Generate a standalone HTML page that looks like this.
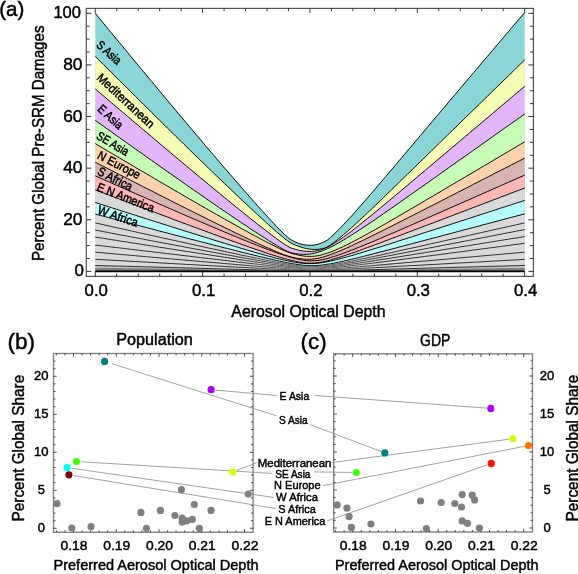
<!DOCTYPE html><html><head><meta charset="utf-8"><style>html,body{margin:0;padding:0;width:578px;height:574px;overflow:hidden;background:#fff;position:relative}</style></head><body><svg width="578" height="574" viewBox="0 0 578 574" style="position:absolute;left:0;top:0;will-change:transform">
<style>text{stroke:#000;stroke-width:0.45px}</style>
<defs><linearGradient id="lg" gradientUnits="userSpaceOnUse" x1="95" y1="0" x2="525" y2="0"><stop offset="0" stop-color="#000"/><stop offset="0.33" stop-color="#000"/><stop offset="0.5" stop-color="#666"/><stop offset="0.67" stop-color="#000"/><stop offset="1" stop-color="#000"/></linearGradient></defs>
<rect width="578" height="574" fill="#fff"/>
<path d="M95.3,13.3 L97.9,16.6 L100.6,19.8 L103.3,23.1 L106.0,26.3 L108.7,29.6 L111.4,32.8 L114.0,36.1 L116.7,39.3 L119.4,42.6 L122.1,45.8 L124.8,49.1 L127.5,52.3 L130.2,55.6 L132.8,58.8 L135.5,62.1 L138.2,65.3 L140.9,68.6 L143.6,71.8 L146.3,75.0 L149.0,78.3 L151.7,81.5 L154.4,84.7 L157.1,88.0 L159.7,91.2 L162.4,94.4 L165.1,97.7 L167.8,100.9 L170.5,104.1 L173.2,107.3 L175.9,110.6 L178.6,113.8 L181.3,117.0 L184.0,120.2 L186.7,123.4 L189.4,126.6 L192.1,129.9 L194.8,133.1 L197.6,136.3 L200.3,139.5 L203.0,142.7 L205.7,145.9 L208.4,149.1 L211.1,152.3 L213.8,155.4 L216.6,158.6 L219.3,161.8 L222.0,165.0 L224.7,168.2 L227.5,171.3 L230.2,174.5 L232.9,177.6 L235.6,180.8 L238.4,183.9 L241.1,187.1 L243.8,190.2 L246.6,193.3 L249.3,196.4 L252.0,199.5 L254.8,202.6 L257.5,205.7 L260.2,208.7 L263.0,211.7 L265.7,214.7 L268.4,217.7 L271.1,220.7 L273.9,223.6 L276.6,226.5 L279.3,229.3 L282.0,232.0 L284.7,234.6 L287.5,237.1 L290.2,239.2 L292.9,240.8 L295.6,242.1 L298.3,243.2 L301.0,244.1 L303.7,244.7 L306.4,245.1 L309.1,245.3 L311.8,245.3 L314.4,245.0 L317.1,244.4 L319.8,243.6 L322.5,242.6 L325.1,241.4 L327.8,239.7 L330.5,237.5 L333.1,235.1 L335.8,232.5 L338.4,229.9 L341.1,227.2 L343.7,224.4 L346.4,221.6 L349.0,218.7 L351.7,215.8 L354.3,212.9 L356.9,209.9 L359.6,206.9 L362.2,203.9 L364.8,200.9 L367.5,197.9 L370.1,194.8 L372.8,191.8 L375.4,188.7 L378.0,185.6 L380.7,182.5 L383.3,179.4 L385.9,176.3 L388.6,173.2 L391.2,170.1 L393.9,167.0 L396.5,163.9 L399.1,160.7 L401.8,157.6 L404.4,154.5 L407.1,151.3 L409.7,148.2 L412.4,145.1 L415.0,141.9 L417.7,138.8 L420.3,135.6 L423.0,132.5 L425.6,129.3 L428.3,126.2 L431.0,123.0 L433.6,119.9 L436.3,116.7 L439.0,113.6 L441.6,110.4 L444.3,107.3 L447.0,104.1 L449.6,100.9 L452.3,97.8 L455.0,94.6 L457.7,91.5 L460.3,88.3 L463.0,85.2 L465.7,82.0 L468.4,78.8 L471.0,75.7 L473.7,72.5 L476.4,69.4 L479.1,66.2 L481.7,63.0 L484.4,59.9 L487.1,56.7 L489.8,53.6 L492.5,50.4 L495.1,47.3 L497.8,44.1 L500.5,40.9 L503.2,37.8 L505.9,34.6 L508.6,31.5 L511.2,28.3 L513.9,25.1 L516.6,22.0 L519.3,18.8 L522.0,15.7 L524.7,12.5 L524.6,271.4 L95.2,271.4Z" fill="#8ad6d6" stroke="none"/>
<path d="M95.3,56.4 L97.9,59.1 L100.6,61.8 L103.3,64.4 L106.0,67.1 L108.7,69.8 L111.4,72.5 L114.0,75.1 L116.7,77.8 L119.4,80.5 L122.1,83.1 L124.8,85.8 L127.5,88.5 L130.2,91.1 L132.8,93.8 L135.5,96.5 L138.2,99.1 L140.9,101.8 L143.6,104.5 L146.3,107.1 L149.0,109.8 L151.7,112.5 L154.4,115.1 L157.1,117.8 L159.7,120.4 L162.4,123.1 L165.1,125.7 L167.8,128.4 L170.5,131.1 L173.2,133.7 L175.9,136.4 L178.6,139.0 L181.3,141.6 L184.0,144.3 L186.7,146.9 L189.4,149.6 L192.1,152.2 L194.8,154.9 L197.6,157.5 L200.3,160.1 L203.0,162.8 L205.7,165.4 L208.4,168.0 L211.1,170.6 L213.8,173.3 L216.6,175.9 L219.3,178.5 L222.0,181.1 L224.7,183.7 L227.5,186.3 L230.2,188.9 L232.9,191.5 L235.6,194.1 L238.4,196.7 L241.1,199.3 L243.8,201.9 L246.6,204.4 L249.3,207.0 L252.0,209.5 L254.8,212.1 L257.5,214.6 L260.2,217.1 L263.0,219.6 L265.7,222.1 L268.4,224.6 L271.1,227.0 L273.9,229.4 L276.6,231.8 L279.3,234.2 L282.0,236.4 L284.7,238.7 L287.5,240.7 L290.2,242.5 L292.9,244.0 L295.6,245.2 L298.3,246.2 L301.0,247.1 L303.7,247.9 L306.4,248.6 L309.1,249.1 L311.8,249.4 L314.4,249.5 L317.1,249.4 L319.8,249.1 L322.5,248.6 L325.1,247.9 L327.8,246.7 L330.5,245.0 L333.1,243.0 L335.8,241.0 L338.4,238.9 L341.1,236.7 L343.7,234.5 L346.4,232.2 L349.0,229.9 L351.7,227.5 L354.3,225.2 L356.9,222.7 L359.6,220.3 L362.2,217.8 L364.8,215.4 L367.5,212.9 L370.1,210.4 L372.8,207.9 L375.4,205.4 L378.0,202.8 L380.7,200.3 L383.3,197.8 L385.9,195.2 L388.6,192.6 L391.2,190.1 L393.9,187.5 L396.5,184.9 L399.1,182.4 L401.8,179.8 L404.4,177.2 L407.1,174.6 L409.7,172.0 L412.4,169.5 L415.0,166.9 L417.7,164.3 L420.3,161.7 L423.0,159.1 L425.6,156.5 L428.3,153.9 L431.0,151.3 L433.6,148.7 L436.3,146.1 L439.0,143.5 L441.6,140.9 L444.3,138.3 L447.0,135.7 L449.6,133.1 L452.3,130.5 L455.0,127.9 L457.7,125.3 L460.3,122.6 L463.0,120.0 L465.7,117.4 L468.4,114.8 L471.0,112.2 L473.7,109.6 L476.4,107.0 L479.1,104.4 L481.7,101.8 L484.4,99.2 L487.1,96.6 L489.8,93.9 L492.5,91.3 L495.1,88.7 L497.8,86.1 L500.5,83.5 L503.2,80.9 L505.9,78.3 L508.6,75.7 L511.2,73.1 L513.9,70.5 L516.6,67.8 L519.3,65.2 L522.0,62.6 L524.7,60.0 L524.6,271.4 L95.2,271.4Z" fill="#f4fcb4" stroke="none"/>
<path d="M95.3,88.9 L97.9,91.2 L100.6,93.5 L103.3,95.8 L106.0,98.1 L108.7,100.3 L111.4,102.6 L114.0,104.9 L116.7,107.2 L119.4,109.5 L122.1,111.7 L124.8,114.0 L127.5,116.3 L130.2,118.6 L132.8,120.9 L135.5,123.1 L138.2,125.4 L140.9,127.7 L143.6,130.0 L146.3,132.2 L149.0,134.5 L151.7,136.8 L154.4,139.1 L157.1,141.3 L159.7,143.6 L162.4,145.9 L165.1,148.1 L167.8,150.4 L170.5,152.7 L173.2,154.9 L175.9,157.2 L178.6,159.5 L181.3,161.7 L184.0,164.0 L186.7,166.3 L189.4,168.5 L192.1,170.8 L194.8,173.0 L197.6,175.3 L200.3,177.5 L203.0,179.8 L205.7,182.0 L208.4,184.3 L211.1,186.5 L213.8,188.8 L216.6,191.0 L219.3,193.2 L222.0,195.5 L224.7,197.7 L227.5,199.9 L230.2,202.2 L232.9,204.4 L235.6,206.6 L238.4,208.8 L241.1,211.0 L243.8,213.2 L246.6,215.4 L249.3,217.6 L252.0,219.8 L254.8,221.9 L257.5,224.1 L260.2,226.2 L263.0,228.3 L265.7,230.4 L268.4,232.5 L271.1,234.6 L273.9,236.7 L276.6,238.7 L279.3,240.7 L282.0,242.6 L284.7,244.4 L287.5,246.1 L290.2,247.6 L292.9,248.6 L295.6,249.4 L298.3,250.1 L301.0,250.7 L303.7,251.1 L306.4,251.4 L309.1,251.5 L311.8,251.5 L314.4,251.2 L317.1,250.8 L319.8,250.1 L322.5,249.2 L325.1,248.2 L327.8,246.9 L330.5,245.5 L333.1,243.9 L335.8,242.3 L338.4,240.5 L341.1,238.7 L343.7,236.9 L346.4,234.9 L349.0,233.0 L351.7,231.0 L354.3,228.9 L356.9,226.9 L359.6,224.8 L362.2,222.7 L364.8,220.6 L367.5,218.5 L370.1,216.4 L372.8,214.2 L375.4,212.0 L378.0,209.9 L380.7,207.7 L383.3,205.5 L385.9,203.3 L388.6,201.1 L391.2,198.9 L393.9,196.7 L396.5,194.5 L399.1,192.3 L401.8,190.1 L404.4,187.8 L407.1,185.6 L409.7,183.4 L412.4,181.1 L415.0,178.9 L417.7,176.7 L420.3,174.4 L423.0,172.2 L425.6,170.0 L428.3,167.7 L431.0,165.5 L433.6,163.2 L436.3,161.0 L439.0,158.7 L441.6,156.5 L444.3,154.2 L447.0,152.0 L449.6,149.7 L452.3,147.4 L455.0,145.2 L457.7,142.9 L460.3,140.7 L463.0,138.4 L465.7,136.2 L468.4,133.9 L471.0,131.6 L473.7,129.4 L476.4,127.1 L479.1,124.9 L481.7,122.6 L484.4,120.3 L487.1,118.1 L489.8,115.8 L492.5,113.5 L495.1,111.3 L497.8,109.0 L500.5,106.7 L503.2,104.5 L505.9,102.2 L508.6,99.9 L511.2,97.7 L513.9,95.4 L516.6,93.1 L519.3,90.9 L522.0,88.6 L524.7,86.3 L524.6,271.4 L95.2,271.4Z" fill="#e2b6fb" stroke="none"/>
<path d="M95.3,120.4 L97.9,122.3 L100.6,124.2 L103.3,126.1 L106.0,128.1 L108.7,130.0 L111.4,131.9 L114.0,133.8 L116.7,135.7 L119.4,137.6 L122.1,139.5 L124.8,141.4 L127.5,143.3 L130.2,145.2 L132.8,147.1 L135.5,149.0 L138.2,150.9 L140.9,152.8 L143.6,154.7 L146.3,156.6 L149.0,158.6 L151.7,160.5 L154.4,162.4 L157.1,164.3 L159.7,166.2 L162.4,168.1 L165.1,170.0 L167.8,171.9 L170.5,173.7 L173.2,175.6 L175.9,177.5 L178.6,179.4 L181.3,181.3 L184.0,183.2 L186.7,185.1 L189.4,187.0 L192.1,188.9 L194.8,190.8 L197.6,192.7 L200.3,194.5 L203.0,196.4 L205.7,198.3 L208.4,200.2 L211.1,202.1 L213.8,203.9 L216.6,205.8 L219.3,207.7 L222.0,209.5 L224.7,211.4 L227.5,213.3 L230.2,215.1 L232.9,217.0 L235.6,218.8 L238.4,220.6 L241.1,222.5 L243.8,224.3 L246.6,226.1 L249.3,228.0 L252.0,229.8 L254.8,231.6 L257.5,233.3 L260.2,235.1 L263.0,236.9 L265.7,238.6 L268.4,240.4 L271.1,242.1 L273.9,243.8 L276.6,245.4 L279.3,247.0 L282.0,248.6 L284.7,250.1 L287.5,251.4 L290.2,252.5 L292.9,253.2 L295.6,253.7 L298.3,254.0 L301.0,254.2 L303.7,254.4 L306.4,254.3 L309.1,254.2 L311.8,253.8 L314.4,253.3 L317.1,252.6 L319.8,251.7 L322.5,250.8 L325.1,249.7 L327.8,248.5 L330.5,247.2 L333.1,245.9 L335.8,244.4 L338.4,243.0 L341.1,241.5 L343.7,239.9 L346.4,238.3 L349.0,236.7 L351.7,235.0 L354.3,233.3 L356.9,231.6 L359.6,229.9 L362.2,228.2 L364.8,226.4 L367.5,224.7 L370.1,222.9 L372.8,221.1 L375.4,219.3 L378.0,217.5 L380.7,215.6 L383.3,213.8 L385.9,212.0 L388.6,210.2 L391.2,208.3 L393.9,206.5 L396.5,204.6 L399.1,202.8 L401.8,200.9 L404.4,199.1 L407.1,197.2 L409.7,195.3 L412.4,193.5 L415.0,191.6 L417.7,189.7 L420.3,187.8 L423.0,186.0 L425.6,184.1 L428.3,182.2 L431.0,180.3 L433.6,178.4 L436.3,176.6 L439.0,174.7 L441.6,172.8 L444.3,170.9 L447.0,169.0 L449.6,167.1 L452.3,165.2 L455.0,163.3 L457.7,161.4 L460.3,159.5 L463.0,157.7 L465.7,155.8 L468.4,153.9 L471.0,152.0 L473.7,150.1 L476.4,148.2 L479.1,146.3 L481.7,144.4 L484.4,142.5 L487.1,140.6 L489.8,138.7 L492.5,136.8 L495.1,134.9 L497.8,133.0 L500.5,131.1 L503.2,129.2 L505.9,127.3 L508.6,125.4 L511.2,123.5 L513.9,121.6 L516.6,119.7 L519.3,117.8 L522.0,115.9 L524.7,114.0 L524.6,271.4 L95.2,271.4Z" fill="#c6fcb6" stroke="none"/>
<path d="M95.3,143.6 L97.9,145.2 L100.6,146.8 L103.3,148.4 L106.0,150.0 L108.7,151.6 L111.4,153.2 L114.0,154.7 L116.7,156.3 L119.4,157.9 L122.1,159.5 L124.8,161.1 L127.5,162.7 L130.2,164.2 L132.8,165.8 L135.5,167.4 L138.2,169.0 L140.9,170.6 L143.6,172.1 L146.3,173.7 L149.0,175.3 L151.7,176.9 L154.4,178.5 L157.1,180.0 L159.7,181.6 L162.4,183.2 L165.1,184.8 L167.8,186.3 L170.5,187.9 L173.2,189.5 L175.9,191.1 L178.6,192.6 L181.3,194.2 L184.0,195.8 L186.7,197.3 L189.4,198.9 L192.1,200.5 L194.8,202.0 L197.6,203.6 L200.3,205.2 L203.0,206.7 L205.7,208.3 L208.4,209.8 L211.1,211.4 L213.8,212.9 L216.6,214.5 L219.3,216.0 L222.0,217.6 L224.7,219.1 L227.5,220.7 L230.2,222.2 L232.9,223.7 L235.6,225.2 L238.4,226.8 L241.1,228.3 L243.8,229.8 L246.6,231.3 L249.3,232.8 L252.0,234.3 L254.8,235.8 L257.5,237.2 L260.2,238.7 L263.0,240.1 L265.7,241.6 L268.4,243.0 L271.1,244.4 L273.9,245.7 L276.6,247.1 L279.3,248.4 L282.0,249.6 L284.7,250.8 L287.5,251.9 L290.2,252.9 L292.9,253.7 L295.6,254.4 L298.3,255.1 L301.0,255.6 L303.7,256.0 L306.4,256.3 L309.1,256.4 L311.8,256.4 L314.4,256.2 L317.1,255.8 L319.8,255.3 L322.5,254.6 L325.1,253.8 L327.8,253.0 L330.5,252.0 L333.1,251.0 L335.8,249.9 L338.4,248.7 L341.1,247.5 L343.7,246.3 L346.4,245.0 L349.0,243.7 L351.7,242.4 L354.3,241.0 L356.9,239.6 L359.6,238.2 L362.2,236.8 L364.8,235.3 L367.5,233.9 L370.1,232.4 L372.8,231.0 L375.4,229.5 L378.0,228.0 L380.7,226.5 L383.3,225.0 L385.9,223.5 L388.6,221.9 L391.2,220.4 L393.9,218.9 L396.5,217.4 L399.1,215.8 L401.8,214.3 L404.4,212.7 L407.1,211.2 L409.7,209.6 L412.4,208.1 L415.0,206.5 L417.7,205.0 L420.3,203.4 L423.0,201.9 L425.6,200.3 L428.3,198.7 L431.0,197.2 L433.6,195.6 L436.3,194.0 L439.0,192.5 L441.6,190.9 L444.3,189.3 L447.0,187.7 L449.6,186.2 L452.3,184.6 L455.0,183.0 L457.7,181.4 L460.3,179.9 L463.0,178.3 L465.7,176.7 L468.4,175.1 L471.0,173.6 L473.7,172.0 L476.4,170.4 L479.1,168.8 L481.7,167.2 L484.4,165.6 L487.1,164.1 L489.8,162.5 L492.5,160.9 L495.1,159.3 L497.8,157.7 L500.5,156.1 L503.2,154.5 L505.9,153.0 L508.6,151.4 L511.2,149.8 L513.9,148.2 L516.6,146.6 L519.3,145.0 L522.0,143.4 L524.7,141.8 L524.6,271.4 L95.2,271.4Z" fill="#fbd2ac" stroke="none"/>
<path d="M95.3,162.2 L97.9,163.6 L100.6,165.0 L103.3,166.3 L106.0,167.7 L108.7,169.1 L111.4,170.5 L114.0,171.8 L116.7,173.2 L119.4,174.6 L122.1,175.9 L124.8,177.3 L127.5,178.7 L130.2,180.0 L132.8,181.4 L135.5,182.8 L138.2,184.2 L140.9,185.5 L143.6,186.9 L146.3,188.3 L149.0,189.6 L151.7,191.0 L154.4,192.4 L157.1,193.7 L159.7,195.1 L162.4,196.4 L165.1,197.8 L167.8,199.2 L170.5,200.5 L173.2,201.9 L175.9,203.3 L178.6,204.6 L181.3,206.0 L184.0,207.3 L186.7,208.7 L189.4,210.1 L192.1,211.4 L194.8,212.8 L197.6,214.1 L200.3,215.5 L203.0,216.8 L205.7,218.2 L208.4,219.5 L211.1,220.9 L213.8,222.2 L216.6,223.6 L219.3,224.9 L222.0,226.2 L224.7,227.6 L227.5,228.9 L230.2,230.2 L232.9,231.6 L235.6,232.9 L238.4,234.2 L241.1,235.5 L243.8,236.8 L246.6,238.1 L249.3,239.4 L252.0,240.7 L254.8,242.0 L257.5,243.3 L260.2,244.5 L263.0,245.8 L265.7,247.0 L268.4,248.2 L271.1,249.4 L273.9,250.6 L276.6,251.8 L279.3,252.9 L282.0,254.0 L284.7,255.0 L287.5,255.9 L290.2,256.7 L292.9,257.4 L295.6,258.0 L298.3,258.5 L301.0,258.8 L303.7,259.1 L306.4,259.3 L309.1,259.3 L311.8,259.2 L314.4,258.9 L317.1,258.5 L319.8,257.9 L322.5,257.2 L325.1,256.4 L327.8,255.5 L330.5,254.6 L333.1,253.6 L335.8,252.6 L338.4,251.5 L341.1,250.4 L343.7,249.2 L346.4,248.1 L349.0,246.9 L351.7,245.7 L354.3,244.4 L356.9,243.2 L359.6,241.9 L362.2,240.7 L364.8,239.4 L367.5,238.1 L370.1,236.8 L372.8,235.5 L375.4,234.2 L378.0,232.9 L380.7,231.6 L383.3,230.3 L385.9,229.0 L388.6,227.6 L391.2,226.3 L393.9,225.0 L396.5,223.6 L399.1,222.3 L401.8,221.0 L404.4,219.6 L407.1,218.3 L409.7,216.9 L412.4,215.6 L415.0,214.2 L417.7,212.9 L420.3,211.5 L423.0,210.2 L425.6,208.8 L428.3,207.4 L431.0,206.1 L433.6,204.7 L436.3,203.4 L439.0,202.0 L441.6,200.6 L444.3,199.3 L447.0,197.9 L449.6,196.5 L452.3,195.2 L455.0,193.8 L457.7,192.4 L460.3,191.1 L463.0,189.7 L465.7,188.3 L468.4,187.0 L471.0,185.6 L473.7,184.2 L476.4,182.8 L479.1,181.5 L481.7,180.1 L484.4,178.7 L487.1,177.4 L489.8,176.0 L492.5,174.6 L495.1,173.2 L497.8,171.9 L500.5,170.5 L503.2,169.1 L505.9,167.7 L508.6,166.4 L511.2,165.0 L513.9,163.6 L516.6,162.2 L519.3,160.8 L522.0,159.5 L524.7,158.1 L524.6,271.4 L95.2,271.4Z" fill="#d8b4b0" stroke="none"/>
<path d="M95.3,175.9 L97.9,177.1 L100.6,178.3 L103.3,179.4 L106.0,180.6 L108.7,181.8 L111.4,183.0 L114.0,184.2 L116.7,185.3 L119.4,186.5 L122.1,187.7 L124.8,188.9 L127.5,190.1 L130.2,191.2 L132.8,192.4 L135.5,193.6 L138.2,194.8 L140.9,195.9 L143.6,197.1 L146.3,198.3 L149.0,199.5 L151.7,200.6 L154.4,201.8 L157.1,203.0 L159.7,204.2 L162.4,205.3 L165.1,206.5 L167.8,207.7 L170.5,208.9 L173.2,210.0 L175.9,211.2 L178.6,212.4 L181.3,213.5 L184.0,214.7 L186.7,215.9 L189.4,217.0 L192.1,218.2 L194.8,219.4 L197.6,220.5 L200.3,221.7 L203.0,222.8 L205.7,224.0 L208.4,225.2 L211.1,226.3 L213.8,227.5 L216.6,228.6 L219.3,229.8 L222.0,230.9 L224.7,232.1 L227.5,233.2 L230.2,234.3 L232.9,235.5 L235.6,236.6 L238.4,237.7 L241.1,238.9 L243.8,240.0 L246.6,241.1 L249.3,242.2 L252.0,243.3 L254.8,244.4 L257.5,245.5 L260.2,246.5 L263.0,247.6 L265.7,248.7 L268.4,249.7 L271.1,250.7 L273.9,251.7 L276.6,252.7 L279.3,253.7 L282.0,254.6 L284.7,255.5 L287.5,256.3 L290.2,257.2 L292.9,257.9 L295.6,258.6 L298.3,259.3 L301.0,259.8 L303.7,260.3 L306.4,260.7 L309.1,260.9 L311.8,260.9 L314.4,260.8 L317.1,260.6 L319.8,260.2 L322.5,259.7 L325.1,259.1 L327.8,258.4 L330.5,257.6 L333.1,256.8 L335.8,256.0 L338.4,255.1 L341.1,254.2 L343.7,253.2 L346.4,252.2 L349.0,251.2 L351.7,250.2 L354.3,249.2 L356.9,248.1 L359.6,247.1 L362.2,246.0 L364.8,244.9 L367.5,243.8 L370.1,242.7 L372.8,241.6 L375.4,240.5 L378.0,239.4 L380.7,238.3 L383.3,237.2 L385.9,236.0 L388.6,234.9 L391.2,233.7 L393.9,232.6 L396.5,231.5 L399.1,230.3 L401.8,229.2 L404.4,228.0 L407.1,226.9 L409.7,225.7 L412.4,224.5 L415.0,223.4 L417.7,222.2 L420.3,221.1 L423.0,219.9 L425.6,218.7 L428.3,217.6 L431.0,216.4 L433.6,215.2 L436.3,214.1 L439.0,212.9 L441.6,211.7 L444.3,210.5 L447.0,209.4 L449.6,208.2 L452.3,207.0 L455.0,205.8 L457.7,204.7 L460.3,203.5 L463.0,202.3 L465.7,201.1 L468.4,200.0 L471.0,198.8 L473.7,197.6 L476.4,196.4 L479.1,195.2 L481.7,194.1 L484.4,192.9 L487.1,191.7 L489.8,190.5 L492.5,189.3 L495.1,188.2 L497.8,187.0 L500.5,185.8 L503.2,184.6 L505.9,183.4 L508.6,182.2 L511.2,181.1 L513.9,179.9 L516.6,178.7 L519.3,177.5 L522.0,176.3 L524.7,175.1 L524.6,271.4 L95.2,271.4Z" fill="#fcb6b4" stroke="none"/>
<path d="M95.3,189.8 L97.9,190.9 L100.6,191.9 L103.3,192.9 L106.0,193.9 L108.7,194.9 L111.4,195.9 L114.0,197.0 L116.7,198.0 L119.4,199.0 L122.1,200.0 L124.8,201.0 L127.5,202.0 L130.2,203.1 L132.8,204.1 L135.5,205.1 L138.2,206.1 L140.9,207.1 L143.6,208.1 L146.3,209.1 L149.0,210.1 L151.7,211.2 L154.4,212.2 L157.1,213.2 L159.7,214.2 L162.4,215.2 L165.1,216.2 L167.8,217.2 L170.5,218.2 L173.2,219.3 L175.9,220.3 L178.6,221.3 L181.3,222.3 L184.0,223.3 L186.7,224.3 L189.4,225.3 L192.1,226.3 L194.8,227.3 L197.6,228.3 L200.3,229.3 L203.0,230.3 L205.7,231.3 L208.4,232.3 L211.1,233.3 L213.8,234.3 L216.6,235.3 L219.3,236.3 L222.0,237.3 L224.7,238.3 L227.5,239.3 L230.2,240.3 L232.9,241.2 L235.6,242.2 L238.4,243.2 L241.1,244.2 L243.8,245.1 L246.6,246.1 L249.3,247.1 L252.0,248.0 L254.8,249.0 L257.5,249.9 L260.2,250.8 L263.0,251.8 L265.7,252.7 L268.4,253.6 L271.1,254.5 L273.9,255.3 L276.6,256.2 L279.3,257.0 L282.0,257.8 L284.7,258.6 L287.5,259.4 L290.2,260.1 L292.9,260.7 L295.6,261.3 L298.3,261.9 L301.0,262.4 L303.7,262.8 L306.4,263.1 L309.1,263.2 L311.8,263.2 L314.4,263.1 L317.1,262.8 L319.8,262.4 L322.5,261.9 L325.1,261.3 L327.8,260.7 L330.5,260.0 L333.1,259.2 L335.8,258.4 L338.4,257.6 L341.1,256.8 L343.7,255.9 L346.4,255.0 L349.0,254.1 L351.7,253.2 L354.3,252.3 L356.9,251.4 L359.6,250.4 L362.2,249.5 L364.8,248.5 L367.5,247.5 L370.1,246.6 L372.8,245.6 L375.4,244.6 L378.0,243.7 L380.7,242.7 L383.3,241.7 L385.9,240.7 L388.6,239.7 L391.2,238.7 L393.9,237.7 L396.5,236.7 L399.1,235.7 L401.8,234.7 L404.4,233.7 L407.1,232.7 L409.7,231.7 L412.4,230.7 L415.0,229.7 L417.7,228.7 L420.3,227.7 L423.0,226.7 L425.6,225.7 L428.3,224.7 L431.0,223.7 L433.6,222.7 L436.3,221.6 L439.0,220.6 L441.6,219.6 L444.3,218.6 L447.0,217.6 L449.6,216.6 L452.3,215.6 L455.0,214.5 L457.7,213.5 L460.3,212.5 L463.0,211.5 L465.7,210.5 L468.4,209.5 L471.0,208.4 L473.7,207.4 L476.4,206.4 L479.1,205.4 L481.7,204.4 L484.4,203.4 L487.1,202.3 L489.8,201.3 L492.5,200.3 L495.1,199.3 L497.8,198.3 L500.5,197.2 L503.2,196.2 L505.9,195.2 L508.6,194.2 L511.2,193.1 L513.9,192.1 L516.6,191.1 L519.3,190.1 L522.0,189.1 L524.7,188.0 L524.6,271.4 L95.2,271.4Z" fill="#d9d9d9" stroke="none"/>
<path d="M95.3,202.5 L97.9,203.3 L100.6,204.2 L103.3,205.1 L106.0,205.9 L108.7,206.8 L111.4,207.6 L114.0,208.5 L116.7,209.3 L119.4,210.2 L122.1,211.1 L124.8,211.9 L127.5,212.8 L130.2,213.6 L132.8,214.5 L135.5,215.3 L138.2,216.2 L140.9,217.0 L143.6,217.9 L146.3,218.8 L149.0,219.6 L151.7,220.5 L154.4,221.3 L157.1,222.2 L159.7,223.0 L162.4,223.9 L165.1,224.7 L167.8,225.6 L170.5,226.4 L173.2,227.3 L175.9,228.1 L178.6,229.0 L181.3,229.8 L184.0,230.7 L186.7,231.5 L189.4,232.4 L192.1,233.2 L194.8,234.1 L197.6,234.9 L200.3,235.8 L203.0,236.6 L205.7,237.5 L208.4,238.3 L211.1,239.1 L213.8,240.0 L216.6,240.8 L219.3,241.7 L222.0,242.5 L224.7,243.3 L227.5,244.2 L230.2,245.0 L232.9,245.8 L235.6,246.6 L238.4,247.4 L241.1,248.3 L243.8,249.1 L246.6,249.9 L249.3,250.7 L252.0,251.5 L254.8,252.3 L257.5,253.1 L260.2,253.8 L263.0,254.6 L265.7,255.4 L268.4,256.1 L271.1,256.8 L273.9,257.6 L276.6,258.3 L279.3,258.9 L282.0,259.6 L284.7,260.2 L287.5,260.8 L290.2,261.4 L292.9,261.9 L295.6,262.4 L298.3,262.8 L301.0,263.1 L303.7,263.4 L306.4,263.6 L309.1,263.6 L311.8,263.6 L314.4,263.5 L317.1,263.3 L319.8,263.0 L322.5,262.6 L325.1,262.2 L327.8,261.7 L330.5,261.1 L333.1,260.5 L335.8,259.9 L338.4,259.2 L341.1,258.5 L343.7,257.8 L346.4,257.1 L349.0,256.3 L351.7,255.6 L354.3,254.8 L356.9,254.0 L359.6,253.2 L362.2,252.5 L364.8,251.7 L367.5,250.8 L370.1,250.0 L372.8,249.2 L375.4,248.4 L378.0,247.6 L380.7,246.8 L383.3,245.9 L385.9,245.1 L388.6,244.3 L391.2,243.4 L393.9,242.6 L396.5,241.7 L399.1,240.9 L401.8,240.0 L404.4,239.2 L407.1,238.4 L409.7,237.5 L412.4,236.7 L415.0,235.8 L417.7,235.0 L420.3,234.1 L423.0,233.2 L425.6,232.4 L428.3,231.5 L431.0,230.7 L433.6,229.8 L436.3,229.0 L439.0,228.1 L441.6,227.2 L444.3,226.4 L447.0,225.5 L449.6,224.7 L452.3,223.8 L455.0,222.9 L457.7,222.1 L460.3,221.2 L463.0,220.4 L465.7,219.5 L468.4,218.6 L471.0,217.8 L473.7,216.9 L476.4,216.0 L479.1,215.2 L481.7,214.3 L484.4,213.4 L487.1,212.6 L489.8,211.7 L492.5,210.8 L495.1,210.0 L497.8,209.1 L500.5,208.2 L503.2,207.4 L505.9,206.5 L508.6,205.6 L511.2,204.8 L513.9,203.9 L516.6,203.0 L519.3,202.2 L522.0,201.3 L524.7,200.4 L524.6,271.4 L95.2,271.4Z" fill="#b4fcfc" stroke="none"/>
<path d="M95.3,214.1 L97.9,214.8 L100.6,215.5 L103.3,216.2 L106.0,216.9 L108.7,217.6 L111.4,218.3 L114.0,219.1 L116.7,219.8 L119.4,220.5 L122.1,221.2 L124.8,221.9 L127.5,222.6 L130.2,223.3 L132.8,224.0 L135.5,224.7 L138.2,225.4 L140.9,226.1 L143.6,226.8 L146.3,227.5 L149.0,228.2 L151.7,228.9 L154.4,229.6 L157.1,230.4 L159.7,231.1 L162.4,231.8 L165.1,232.5 L167.8,233.2 L170.5,233.9 L173.2,234.6 L175.9,235.3 L178.6,236.0 L181.3,236.7 L184.0,237.4 L186.7,238.1 L189.4,238.8 L192.1,239.5 L194.8,240.2 L197.6,240.9 L200.3,241.6 L203.0,242.3 L205.7,243.0 L208.4,243.7 L211.1,244.4 L213.8,245.1 L216.6,245.8 L219.3,246.5 L222.0,247.2 L224.7,247.9 L227.5,248.5 L230.2,249.2 L232.9,249.9 L235.6,250.6 L238.4,251.3 L241.1,252.0 L243.8,252.7 L246.6,253.3 L249.3,254.0 L252.0,254.7 L254.8,255.3 L257.5,256.0 L260.2,256.7 L263.0,257.3 L265.7,258.0 L268.4,258.6 L271.1,259.2 L273.9,259.9 L276.6,260.5 L279.3,261.1 L282.0,261.7 L284.7,262.2 L287.5,262.8 L290.2,263.3 L292.9,263.8 L295.6,264.2 L298.3,264.6 L301.0,265.0 L303.7,265.3 L306.4,265.5 L309.1,265.6 L311.8,265.7 L314.4,265.6 L317.1,265.5 L319.8,265.3 L322.5,265.0 L325.1,264.6 L327.8,264.2 L330.5,263.8 L333.1,263.3 L335.8,262.8 L338.4,262.2 L341.1,261.7 L343.7,261.1 L346.4,260.5 L349.0,259.9 L351.7,259.2 L354.3,258.6 L356.9,258.0 L359.6,257.3 L362.2,256.7 L364.8,256.0 L367.5,255.3 L370.1,254.7 L372.8,254.0 L375.4,253.3 L378.0,252.6 L380.7,251.9 L383.3,251.3 L385.9,250.6 L388.6,249.9 L391.2,249.2 L393.9,248.5 L396.5,247.8 L399.1,247.1 L401.8,246.4 L404.4,245.7 L407.1,245.0 L409.7,244.3 L412.4,243.6 L415.0,242.9 L417.7,242.2 L420.3,241.5 L423.0,240.8 L425.6,240.1 L428.3,239.4 L431.0,238.7 L433.6,238.0 L436.3,237.3 L439.0,236.6 L441.6,235.9 L444.3,235.2 L447.0,234.5 L449.6,233.8 L452.3,233.1 L455.0,232.3 L457.7,231.6 L460.3,230.9 L463.0,230.2 L465.7,229.5 L468.4,228.8 L471.0,228.1 L473.7,227.4 L476.4,226.7 L479.1,226.0 L481.7,225.2 L484.4,224.5 L487.1,223.8 L489.8,223.1 L492.5,222.4 L495.1,221.7 L497.8,221.0 L500.5,220.3 L503.2,219.5 L505.9,218.8 L508.6,218.1 L511.2,217.4 L513.9,216.7 L516.6,216.0 L519.3,215.3 L522.0,214.6 L524.7,213.8 L524.6,271.4 L95.2,271.4Z" fill="#d9d9d9" stroke="none"/>
<path d="M95.3,222.9 L97.9,223.5 L100.6,224.1 L103.3,224.7 L106.0,225.3 L108.7,225.9 L111.4,226.5 L114.0,227.1 L116.7,227.7 L119.4,228.3 L122.1,228.9 L124.8,229.5 L127.5,230.1 L130.2,230.7 L132.8,231.3 L135.5,231.9 L138.2,232.5 L140.9,233.1 L143.6,233.7 L146.3,234.3 L149.0,234.9 L151.7,235.5 L154.4,236.1 L157.1,236.7 L159.7,237.3 L162.4,237.9 L165.1,238.5 L167.8,239.0 L170.5,239.6 L173.2,240.2 L175.9,240.8 L178.6,241.4 L181.3,242.0 L184.0,242.6 L186.7,243.2 L189.4,243.8 L192.1,244.4 L194.8,245.0 L197.6,245.6 L200.3,246.2 L203.0,246.8 L205.7,247.4 L208.4,248.0 L211.1,248.5 L213.8,249.1 L216.6,249.7 L219.3,250.3 L222.0,250.9 L224.7,251.5 L227.5,252.1 L230.2,252.7 L232.9,253.2 L235.6,253.8 L238.4,254.4 L241.1,255.0 L243.8,255.6 L246.6,256.1 L249.3,256.7 L252.0,257.3 L254.8,257.8 L257.5,258.4 L260.2,258.9 L263.0,259.5 L265.7,260.1 L268.4,260.6 L271.1,261.1 L273.9,261.7 L276.6,262.2 L279.3,262.7 L282.0,263.2 L284.7,263.7 L287.5,264.1 L290.2,264.6 L292.9,265.0 L295.6,265.4 L298.3,265.7 L301.0,266.0 L303.7,266.2 L306.4,266.4 L309.1,266.5 L311.8,266.6 L314.4,266.5 L317.1,266.4 L319.8,266.2 L322.5,266.0 L325.1,265.7 L327.8,265.4 L330.5,265.0 L333.1,264.6 L335.8,264.1 L338.4,263.7 L341.1,263.2 L343.7,262.7 L346.4,262.2 L349.0,261.7 L351.7,261.1 L354.3,260.6 L356.9,260.1 L359.6,259.5 L362.2,258.9 L364.8,258.4 L367.5,257.8 L370.1,257.3 L372.8,256.7 L375.4,256.1 L378.0,255.6 L380.7,255.0 L383.3,254.4 L385.9,253.8 L388.6,253.2 L391.2,252.7 L393.9,252.1 L396.5,251.5 L399.1,250.9 L401.8,250.3 L404.4,249.7 L407.1,249.1 L409.7,248.5 L412.4,248.0 L415.0,247.4 L417.7,246.8 L420.3,246.2 L423.0,245.6 L425.6,245.0 L428.3,244.4 L431.0,243.8 L433.6,243.2 L436.3,242.6 L439.0,242.0 L441.6,241.4 L444.3,240.8 L447.0,240.2 L449.6,239.6 L452.3,239.0 L455.0,238.5 L457.7,237.9 L460.3,237.3 L463.0,236.7 L465.7,236.1 L468.4,235.5 L471.0,234.9 L473.7,234.3 L476.4,233.7 L479.1,233.1 L481.7,232.5 L484.4,231.9 L487.1,231.3 L489.8,230.7 L492.5,230.1 L495.1,229.5 L497.8,228.9 L500.5,228.3 L503.2,227.7 L505.9,227.1 L508.6,226.5 L511.2,225.9 L513.9,225.3 L516.6,224.7 L519.3,224.1 L522.0,223.5 L524.7,222.9 L524.6,271.4 L95.2,271.4Z" fill="#d9d9d9" stroke="none"/>
<path d="M95.3,230.1 L97.9,230.6 L100.6,231.1 L103.3,231.6 L106.0,232.1 L108.7,232.6 L111.4,233.2 L114.0,233.7 L116.7,234.2 L119.4,234.7 L122.1,235.2 L124.8,235.7 L127.5,236.2 L130.2,236.7 L132.8,237.2 L135.5,237.7 L138.2,238.2 L140.9,238.7 L143.6,239.2 L146.3,239.8 L149.0,240.3 L151.7,240.8 L154.4,241.3 L157.1,241.8 L159.7,242.3 L162.4,242.8 L165.1,243.3 L167.8,243.8 L170.5,244.3 L173.2,244.8 L175.9,245.3 L178.6,245.8 L181.3,246.3 L184.0,246.9 L186.7,247.4 L189.4,247.9 L192.1,248.4 L194.8,248.9 L197.6,249.4 L200.3,249.9 L203.0,250.4 L205.7,250.9 L208.4,251.4 L211.1,251.9 L213.8,252.4 L216.6,252.9 L219.3,253.4 L222.0,253.9 L224.7,254.4 L227.5,254.9 L230.2,255.4 L232.9,255.9 L235.6,256.4 L238.4,256.9 L241.1,257.4 L243.8,257.9 L246.6,258.4 L249.3,258.9 L252.0,259.3 L254.8,259.8 L257.5,260.3 L260.2,260.8 L263.0,261.3 L265.7,261.7 L268.4,262.2 L271.1,262.6 L273.9,263.1 L276.6,263.5 L279.3,264.0 L282.0,264.4 L284.7,264.8 L287.5,265.2 L290.2,265.6 L292.9,266.0 L295.6,266.3 L298.3,266.6 L301.0,266.8 L303.7,267.1 L306.4,267.2 L309.1,267.3 L311.8,267.3 L314.4,267.3 L317.1,267.2 L319.8,267.1 L322.5,266.8 L325.1,266.6 L327.8,266.3 L330.5,266.0 L333.1,265.6 L335.8,265.2 L338.4,264.8 L341.1,264.4 L343.7,264.0 L346.4,263.5 L349.0,263.1 L351.7,262.6 L354.3,262.2 L356.9,261.7 L359.6,261.2 L362.2,260.7 L364.8,260.3 L367.5,259.8 L370.1,259.3 L372.8,258.8 L375.4,258.3 L378.0,257.8 L380.7,257.3 L383.3,256.8 L385.9,256.3 L388.6,255.8 L391.2,255.3 L393.9,254.8 L396.5,254.3 L399.1,253.8 L401.8,253.3 L404.4,252.8 L407.1,252.3 L409.7,251.8 L412.4,251.3 L415.0,250.8 L417.7,250.3 L420.3,249.7 L423.0,249.2 L425.6,248.7 L428.3,248.2 L431.0,247.7 L433.6,247.2 L436.3,246.7 L439.0,246.2 L441.6,245.6 L444.3,245.1 L447.0,244.6 L449.6,244.1 L452.3,243.6 L455.0,243.1 L457.7,242.6 L460.3,242.0 L463.0,241.5 L465.7,241.0 L468.4,240.5 L471.0,240.0 L473.7,239.5 L476.4,238.9 L479.1,238.4 L481.7,237.9 L484.4,237.4 L487.1,236.9 L489.8,236.3 L492.5,235.8 L495.1,235.3 L497.8,234.8 L500.5,234.3 L503.2,233.7 L505.9,233.2 L508.6,232.7 L511.2,232.2 L513.9,231.7 L516.6,231.1 L519.3,230.6 L522.0,230.1 L524.7,229.6 L524.6,271.4 L95.2,271.4Z" fill="#d9d9d9" stroke="none"/>
<path d="M95.3,237.1 L97.9,237.5 L100.6,237.9 L103.3,238.3 L106.0,238.8 L108.7,239.2 L111.4,239.6 L114.0,240.0 L116.7,240.4 L119.4,240.9 L122.1,241.3 L124.8,241.7 L127.5,242.1 L130.2,242.6 L132.8,243.0 L135.5,243.4 L138.2,243.8 L140.9,244.2 L143.6,244.7 L146.3,245.1 L149.0,245.5 L151.7,245.9 L154.4,246.4 L157.1,246.8 L159.7,247.2 L162.4,247.6 L165.1,248.0 L167.8,248.5 L170.5,248.9 L173.2,249.3 L175.9,249.7 L178.6,250.2 L181.3,250.6 L184.0,251.0 L186.7,251.4 L189.4,251.8 L192.1,252.3 L194.8,252.7 L197.6,253.1 L200.3,253.5 L203.0,253.9 L205.7,254.4 L208.4,254.8 L211.1,255.2 L213.8,255.6 L216.6,256.0 L219.3,256.4 L222.0,256.9 L224.7,257.3 L227.5,257.7 L230.2,258.1 L232.9,258.5 L235.6,258.9 L238.4,259.4 L241.1,259.8 L243.8,260.2 L246.6,260.6 L249.3,261.0 L252.0,261.4 L254.8,261.8 L257.5,262.2 L260.2,262.6 L263.0,263.0 L265.7,263.4 L268.4,263.8 L271.1,264.2 L273.9,264.5 L276.6,264.9 L279.3,265.3 L282.0,265.6 L284.7,266.0 L287.5,266.3 L290.2,266.6 L292.9,266.9 L295.6,267.2 L298.3,267.5 L301.0,267.7 L303.7,267.9 L306.4,268.0 L309.1,268.1 L311.8,268.1 L314.4,268.1 L317.1,268.0 L319.8,267.9 L322.5,267.7 L325.1,267.5 L327.8,267.2 L330.5,266.9 L333.1,266.6 L335.8,266.3 L338.4,266.0 L341.1,265.6 L343.7,265.3 L346.4,264.9 L349.0,264.5 L351.7,264.1 L354.3,263.8 L356.9,263.4 L359.6,263.0 L362.2,262.6 L364.8,262.2 L367.5,261.8 L370.1,261.4 L372.8,260.9 L375.4,260.5 L378.0,260.1 L380.7,259.7 L383.3,259.3 L385.9,258.9 L388.6,258.5 L391.2,258.0 L393.9,257.6 L396.5,257.2 L399.1,256.8 L401.8,256.4 L404.4,255.9 L407.1,255.5 L409.7,255.1 L412.4,254.7 L415.0,254.2 L417.7,253.8 L420.3,253.4 L423.0,253.0 L425.6,252.5 L428.3,252.1 L431.0,251.7 L433.6,251.2 L436.3,250.8 L439.0,250.4 L441.6,250.0 L444.3,249.5 L447.0,249.1 L449.6,248.7 L452.3,248.2 L455.0,247.8 L457.7,247.4 L460.3,246.9 L463.0,246.5 L465.7,246.1 L468.4,245.7 L471.0,245.2 L473.7,244.8 L476.4,244.4 L479.1,243.9 L481.7,243.5 L484.4,243.1 L487.1,242.6 L489.8,242.2 L492.5,241.8 L495.1,241.3 L497.8,240.9 L500.5,240.5 L503.2,240.0 L505.9,239.6 L508.6,239.2 L511.2,238.7 L513.9,238.3 L516.6,237.9 L519.3,237.4 L522.0,237.0 L524.7,236.6 L524.6,271.4 L95.2,271.4Z" fill="#d9d9d9" stroke="none"/>
<path d="M95.3,245.1 L97.9,245.4 L100.6,245.7 L103.3,246.0 L106.0,246.3 L108.7,246.7 L111.4,247.0 L114.0,247.3 L116.7,247.6 L119.4,247.9 L122.1,248.2 L124.8,248.6 L127.5,248.9 L130.2,249.2 L132.8,249.5 L135.5,249.8 L138.2,250.1 L140.9,250.5 L143.6,250.8 L146.3,251.1 L149.0,251.4 L151.7,251.7 L154.4,252.1 L157.1,252.4 L159.7,252.7 L162.4,253.0 L165.1,253.3 L167.8,253.7 L170.5,254.0 L173.2,254.3 L175.9,254.6 L178.6,254.9 L181.3,255.3 L184.0,255.6 L186.7,255.9 L189.4,256.2 L192.1,256.6 L194.8,256.9 L197.6,257.2 L200.3,257.5 L203.0,257.8 L205.7,258.2 L208.4,258.5 L211.1,258.8 L213.8,259.1 L216.6,259.4 L219.3,259.8 L222.0,260.1 L224.7,260.4 L227.5,260.7 L230.2,261.1 L232.9,261.4 L235.6,261.7 L238.4,262.0 L241.1,262.3 L243.8,262.6 L246.6,263.0 L249.3,263.3 L252.0,263.6 L254.8,263.9 L257.5,264.2 L260.2,264.5 L263.0,264.8 L265.7,265.2 L268.4,265.5 L271.1,265.8 L273.9,266.1 L276.6,266.3 L279.3,266.6 L282.0,266.9 L284.7,267.2 L287.5,267.5 L290.2,267.7 L292.9,267.9 L295.6,268.2 L298.3,268.4 L301.0,268.5 L303.7,268.7 L306.4,268.8 L309.1,268.9 L311.8,268.9 L314.4,268.9 L317.1,268.8 L319.8,268.7 L322.5,268.5 L325.1,268.4 L327.8,268.2 L330.5,267.9 L333.1,267.7 L335.8,267.4 L338.4,267.2 L341.1,266.9 L343.7,266.6 L346.4,266.3 L349.0,266.0 L351.7,265.7 L354.3,265.4 L356.9,265.1 L359.6,264.7 L362.2,264.4 L364.8,264.1 L367.5,263.8 L370.1,263.5 L372.8,263.1 L375.4,262.8 L378.0,262.5 L380.7,262.1 L383.3,261.8 L385.9,261.5 L388.6,261.1 L391.2,260.8 L393.9,260.5 L396.5,260.1 L399.1,259.8 L401.8,259.4 L404.4,259.1 L407.1,258.8 L409.7,258.4 L412.4,258.1 L415.0,257.7 L417.7,257.4 L420.3,257.0 L423.0,256.7 L425.6,256.3 L428.3,256.0 L431.0,255.7 L433.6,255.3 L436.3,255.0 L439.0,254.6 L441.6,254.3 L444.3,253.9 L447.0,253.6 L449.6,253.2 L452.3,252.9 L455.0,252.5 L457.7,252.2 L460.3,251.8 L463.0,251.5 L465.7,251.1 L468.4,250.8 L471.0,250.4 L473.7,250.0 L476.4,249.7 L479.1,249.3 L481.7,249.0 L484.4,248.6 L487.1,248.3 L489.8,247.9 L492.5,247.6 L495.1,247.2 L497.8,246.9 L500.5,246.5 L503.2,246.1 L505.9,245.8 L508.6,245.4 L511.2,245.1 L513.9,244.7 L516.6,244.3 L519.3,244.0 L522.0,243.6 L524.7,243.3 L524.6,271.4 L95.2,271.4Z" fill="#d9d9d9" stroke="none"/>
<path d="M95.3,252.2 L97.9,252.4 L100.6,252.6 L103.3,252.9 L106.0,253.1 L108.7,253.4 L111.4,253.6 L114.0,253.8 L116.7,254.1 L119.4,254.3 L122.1,254.6 L124.8,254.8 L127.5,255.0 L130.2,255.3 L132.8,255.5 L135.5,255.7 L138.2,256.0 L140.9,256.2 L143.6,256.5 L146.3,256.7 L149.0,256.9 L151.7,257.2 L154.4,257.4 L157.1,257.6 L159.7,257.9 L162.4,258.1 L165.1,258.4 L167.8,258.6 L170.5,258.8 L173.2,259.1 L175.9,259.3 L178.6,259.5 L181.3,259.8 L184.0,260.0 L186.7,260.3 L189.4,260.5 L192.1,260.7 L194.8,261.0 L197.6,261.2 L200.3,261.4 L203.0,261.7 L205.7,261.9 L208.4,262.1 L211.1,262.4 L213.8,262.6 L216.6,262.8 L219.3,263.1 L222.0,263.3 L224.7,263.5 L227.5,263.8 L230.2,264.0 L232.9,264.2 L235.6,264.5 L238.4,264.7 L241.1,264.9 L243.8,265.2 L246.6,265.4 L249.3,265.6 L252.0,265.9 L254.8,266.1 L257.5,266.3 L260.2,266.5 L263.0,266.8 L265.7,267.0 L268.4,267.2 L271.1,267.4 L273.9,267.6 L276.6,267.8 L279.3,268.0 L282.0,268.2 L284.7,268.4 L287.5,268.6 L290.2,268.8 L292.9,269.0 L295.6,269.2 L298.3,269.3 L301.0,269.4 L303.7,269.5 L306.4,269.6 L309.1,269.7 L311.8,269.7 L314.4,269.7 L317.1,269.6 L319.8,269.5 L322.5,269.4 L325.1,269.3 L327.8,269.2 L330.5,269.0 L333.1,268.8 L335.8,268.6 L338.4,268.4 L341.1,268.2 L343.7,268.0 L346.4,267.8 L349.0,267.6 L351.7,267.4 L354.3,267.2 L356.9,267.0 L359.6,266.8 L362.2,266.5 L364.8,266.3 L367.5,266.1 L370.1,265.9 L372.8,265.6 L375.4,265.4 L378.0,265.2 L380.7,264.9 L383.3,264.7 L385.9,264.5 L388.6,264.2 L391.2,264.0 L393.9,263.8 L396.5,263.5 L399.1,263.3 L401.8,263.1 L404.4,262.8 L407.1,262.6 L409.7,262.4 L412.4,262.1 L415.0,261.9 L417.7,261.7 L420.3,261.4 L423.0,261.2 L425.6,261.0 L428.3,260.7 L431.0,260.5 L433.6,260.3 L436.3,260.0 L439.0,259.8 L441.6,259.5 L444.3,259.3 L447.0,259.1 L449.6,258.8 L452.3,258.6 L455.0,258.4 L457.7,258.1 L460.3,257.9 L463.0,257.6 L465.7,257.4 L468.4,257.2 L471.0,256.9 L473.7,256.7 L476.4,256.5 L479.1,256.2 L481.7,256.0 L484.4,255.7 L487.1,255.5 L489.8,255.3 L492.5,255.0 L495.1,254.8 L497.8,254.6 L500.5,254.3 L503.2,254.1 L505.9,253.8 L508.6,253.6 L511.2,253.4 L513.9,253.1 L516.6,252.9 L519.3,252.6 L522.0,252.4 L524.7,252.2 L524.6,271.4 L95.2,271.4Z" fill="#d9d9d9" stroke="none"/>
<path d="M95.3,259.3 L97.9,259.4 L100.6,259.6 L103.3,259.7 L106.0,259.9 L108.7,260.0 L111.4,260.2 L114.0,260.3 L116.7,260.5 L119.4,260.6 L122.1,260.8 L124.8,260.9 L127.5,261.1 L130.2,261.2 L132.8,261.4 L135.5,261.5 L138.2,261.7 L140.9,261.8 L143.6,262.0 L146.3,262.1 L149.0,262.3 L151.7,262.4 L154.4,262.6 L157.1,262.7 L159.7,262.9 L162.4,263.0 L165.1,263.2 L167.8,263.3 L170.5,263.5 L173.2,263.6 L175.9,263.8 L178.6,263.9 L181.3,264.1 L184.0,264.2 L186.7,264.4 L189.4,264.5 L192.1,264.7 L194.8,264.8 L197.6,265.0 L200.3,265.1 L203.0,265.3 L205.7,265.4 L208.4,265.6 L211.1,265.7 L213.8,265.9 L216.6,266.0 L219.3,266.2 L222.0,266.3 L224.7,266.5 L227.5,266.6 L230.2,266.8 L232.9,266.9 L235.6,267.0 L238.4,267.2 L241.1,267.3 L243.8,267.5 L246.6,267.6 L249.3,267.8 L252.0,267.9 L254.8,268.1 L257.5,268.2 L260.2,268.3 L263.0,268.5 L265.7,268.6 L268.4,268.8 L271.1,268.9 L273.9,269.0 L276.6,269.2 L279.3,269.3 L282.0,269.4 L284.7,269.5 L287.5,269.7 L290.2,269.8 L292.9,269.9 L295.6,270.0 L298.3,270.1 L301.0,270.2 L303.7,270.2 L306.4,270.3 L309.1,270.3 L311.8,270.3 L314.4,270.3 L317.1,270.3 L319.8,270.2 L322.5,270.2 L325.1,270.1 L327.8,270.0 L330.5,269.9 L333.1,269.8 L335.8,269.7 L338.4,269.5 L341.1,269.4 L343.7,269.3 L346.4,269.2 L349.0,269.0 L351.7,268.9 L354.3,268.8 L356.9,268.6 L359.6,268.5 L362.2,268.3 L364.8,268.2 L367.5,268.1 L370.1,267.9 L372.8,267.8 L375.4,267.6 L378.0,267.5 L380.7,267.4 L383.3,267.2 L385.9,267.1 L388.6,266.9 L391.2,266.8 L393.9,266.6 L396.5,266.5 L399.1,266.3 L401.8,266.2 L404.4,266.0 L407.1,265.9 L409.7,265.7 L412.4,265.6 L415.0,265.5 L417.7,265.3 L420.3,265.2 L423.0,265.0 L425.6,264.9 L428.3,264.7 L431.0,264.6 L433.6,264.4 L436.3,264.3 L439.0,264.1 L441.6,264.0 L444.3,263.8 L447.0,263.7 L449.6,263.5 L452.3,263.4 L455.0,263.2 L457.7,263.1 L460.3,262.9 L463.0,262.8 L465.7,262.7 L468.4,262.5 L471.0,262.4 L473.7,262.2 L476.4,262.1 L479.1,261.9 L481.7,261.8 L484.4,261.6 L487.1,261.5 L489.8,261.3 L492.5,261.2 L495.1,261.0 L497.8,260.9 L500.5,260.7 L503.2,260.6 L505.9,260.4 L508.6,260.3 L511.2,260.1 L513.9,260.0 L516.6,259.8 L519.3,259.7 L522.0,259.5 L524.7,259.4 L524.6,271.4 L95.2,271.4Z" fill="#d9d9d9" stroke="none"/>
<path d="M95.3,265.5 L97.9,265.5 L100.6,265.6 L103.3,265.7 L106.0,265.8 L108.7,265.8 L111.4,265.9 L114.0,266.0 L116.7,266.1 L119.4,266.1 L122.1,266.2 L124.8,266.3 L127.5,266.3 L130.2,266.4 L132.8,266.5 L135.5,266.6 L138.2,266.6 L140.9,266.7 L143.6,266.8 L146.3,266.9 L149.0,266.9 L151.7,267.0 L154.4,267.1 L157.1,267.2 L159.7,267.2 L162.4,267.3 L165.1,267.4 L167.8,267.4 L170.5,267.5 L173.2,267.6 L175.9,267.7 L178.6,267.7 L181.3,267.8 L184.0,267.9 L186.7,268.0 L189.4,268.0 L192.1,268.1 L194.8,268.2 L197.6,268.2 L200.3,268.3 L203.0,268.4 L205.7,268.5 L208.4,268.5 L211.1,268.6 L213.8,268.7 L216.6,268.8 L219.3,268.8 L222.0,268.9 L224.7,269.0 L227.5,269.0 L230.2,269.1 L232.9,269.2 L235.6,269.3 L238.4,269.3 L241.1,269.4 L243.8,269.5 L246.6,269.5 L249.3,269.6 L252.0,269.7 L254.8,269.7 L257.5,269.8 L260.2,269.9 L263.0,270.0 L265.7,270.0 L268.4,270.1 L271.1,270.2 L273.9,270.2 L276.6,270.3 L279.3,270.3 L282.0,270.4 L284.7,270.5 L287.5,270.5 L290.2,270.6 L292.9,270.6 L295.6,270.7 L298.3,270.7 L301.0,270.8 L303.7,270.8 L306.4,270.8 L309.1,270.8 L311.8,270.8 L314.4,270.8 L317.1,270.8 L319.8,270.8 L322.5,270.8 L325.1,270.7 L327.8,270.7 L330.5,270.6 L333.1,270.6 L335.8,270.5 L338.4,270.5 L341.1,270.4 L343.7,270.3 L346.4,270.3 L349.0,270.2 L351.7,270.2 L354.3,270.1 L356.9,270.0 L359.6,270.0 L362.2,269.9 L364.8,269.8 L367.5,269.7 L370.1,269.7 L372.8,269.6 L375.4,269.5 L378.0,269.5 L380.7,269.4 L383.3,269.3 L385.9,269.3 L388.6,269.2 L391.2,269.1 L393.9,269.0 L396.5,269.0 L399.1,268.9 L401.8,268.8 L404.4,268.8 L407.1,268.7 L409.7,268.6 L412.4,268.5 L415.0,268.5 L417.7,268.4 L420.3,268.3 L423.0,268.2 L425.6,268.2 L428.3,268.1 L431.0,268.0 L433.6,268.0 L436.3,267.9 L439.0,267.8 L441.6,267.7 L444.3,267.7 L447.0,267.6 L449.6,267.5 L452.3,267.4 L455.0,267.4 L457.7,267.3 L460.3,267.2 L463.0,267.2 L465.7,267.1 L468.4,267.0 L471.0,266.9 L473.7,266.9 L476.4,266.8 L479.1,266.7 L481.7,266.6 L484.4,266.6 L487.1,266.5 L489.8,266.4 L492.5,266.3 L495.1,266.3 L497.8,266.2 L500.5,266.1 L503.2,266.1 L505.9,266.0 L508.6,265.9 L511.2,265.8 L513.9,265.8 L516.6,265.7 L519.3,265.6 L522.0,265.5 L524.7,265.5 L524.6,271.4 L95.2,271.4Z" fill="#c8c8c8" stroke="none"/>
<path d="M95.3,268.2 L97.9,268.2 L100.6,268.3 L103.3,268.3 L106.0,268.3 L108.7,268.4 L111.4,268.4 L114.0,268.5 L116.7,268.5 L119.4,268.5 L122.1,268.6 L124.8,268.6 L127.5,268.7 L130.2,268.7 L132.8,268.7 L135.5,268.8 L138.2,268.8 L140.9,268.9 L143.6,268.9 L146.3,268.9 L149.0,269.0 L151.7,269.0 L154.4,269.1 L157.1,269.1 L159.7,269.1 L162.4,269.2 L165.1,269.2 L167.8,269.3 L170.5,269.3 L173.2,269.3 L175.9,269.4 L178.6,269.4 L181.3,269.5 L184.0,269.5 L186.7,269.5 L189.4,269.6 L192.1,269.6 L194.8,269.7 L197.6,269.7 L200.3,269.7 L203.0,269.8 L205.7,269.8 L208.4,269.9 L211.1,269.9 L213.8,269.9 L216.6,270.0 L219.3,270.0 L222.0,270.0 L224.7,270.1 L227.5,270.1 L230.2,270.2 L232.9,270.2 L235.6,270.2 L238.4,270.3 L241.1,270.3 L243.8,270.4 L246.6,270.4 L249.3,270.4 L252.0,270.5 L254.8,270.5 L257.5,270.5 L260.2,270.6 L263.0,270.6 L265.7,270.7 L268.4,270.7 L271.1,270.7 L273.9,270.8 L276.6,270.8 L279.3,270.8 L282.0,270.9 L284.7,270.9 L287.5,270.9 L290.2,270.9 L292.9,271.0 L295.6,271.0 L298.3,271.0 L301.0,271.0 L303.7,271.1 L306.4,271.1 L309.1,271.1 L311.8,271.1 L314.4,271.1 L317.1,271.1 L319.8,271.1 L322.5,271.0 L325.1,271.0 L327.8,271.0 L330.5,271.0 L333.1,270.9 L335.8,270.9 L338.4,270.9 L341.1,270.9 L343.7,270.8 L346.4,270.8 L349.0,270.8 L351.7,270.7 L354.3,270.7 L356.9,270.7 L359.6,270.6 L362.2,270.6 L364.8,270.6 L367.5,270.5 L370.1,270.5 L372.8,270.4 L375.4,270.4 L378.0,270.4 L380.7,270.3 L383.3,270.3 L385.9,270.3 L388.6,270.2 L391.2,270.2 L393.9,270.1 L396.5,270.1 L399.1,270.1 L401.8,270.0 L404.4,270.0 L407.1,270.0 L409.7,269.9 L412.4,269.9 L415.0,269.8 L417.7,269.8 L420.3,269.8 L423.0,269.7 L425.6,269.7 L428.3,269.7 L431.0,269.6 L433.6,269.6 L436.3,269.5 L439.0,269.5 L441.6,269.5 L444.3,269.4 L447.0,269.4 L449.6,269.4 L452.3,269.3 L455.0,269.3 L457.7,269.2 L460.3,269.2 L463.0,269.2 L465.7,269.1 L468.4,269.1 L471.0,269.1 L473.7,269.0 L476.4,269.0 L479.1,268.9 L481.7,268.9 L484.4,268.9 L487.1,268.8 L489.8,268.8 L492.5,268.8 L495.1,268.7 L497.8,268.7 L500.5,268.6 L503.2,268.6 L505.9,268.6 L508.6,268.5 L511.2,268.5 L513.9,268.5 L516.6,268.4 L519.3,268.4 L522.0,268.3 L524.7,268.3 L524.6,271.4 L95.2,271.4Z" fill="#a0a0a0" stroke="none"/>
<path d="M95.3,269.9 L97.9,269.9 L100.6,269.9 L103.3,269.9 L106.0,269.9 L108.7,269.9 L111.4,270.0 L114.0,270.0 L116.7,270.0 L119.4,270.0 L122.1,270.0 L124.8,270.1 L127.5,270.1 L130.2,270.1 L132.8,270.1 L135.5,270.1 L138.2,270.2 L140.9,270.2 L143.6,270.2 L146.3,270.2 L149.0,270.2 L151.7,270.3 L154.4,270.3 L157.1,270.3 L159.7,270.3 L162.4,270.3 L165.1,270.4 L167.8,270.4 L170.5,270.4 L173.2,270.4 L175.9,270.4 L178.6,270.4 L181.3,270.5 L184.0,270.5 L186.7,270.5 L189.4,270.5 L192.1,270.5 L194.8,270.6 L197.6,270.6 L200.3,270.6 L203.0,270.6 L205.7,270.6 L208.4,270.7 L211.1,270.7 L213.8,270.7 L216.6,270.7 L219.3,270.7 L222.0,270.8 L224.7,270.8 L227.5,270.8 L230.2,270.8 L232.9,270.8 L235.6,270.8 L238.4,270.9 L241.1,270.9 L243.8,270.9 L246.6,270.9 L249.3,270.9 L252.0,271.0 L254.8,271.0 L257.5,271.0 L260.2,271.0 L263.0,271.0 L265.7,271.0 L268.4,271.1 L271.1,271.1 L273.9,271.1 L276.6,271.1 L279.3,271.1 L282.0,271.2 L284.7,271.2 L287.5,271.2 L290.2,271.2 L292.9,271.2 L295.6,271.2 L298.3,271.2 L301.0,271.3 L303.7,271.3 L306.4,271.3 L309.1,271.3 L311.8,271.3 L314.4,271.3 L317.1,271.3 L319.8,271.3 L322.5,271.3 L325.1,271.2 L327.8,271.2 L330.5,271.2 L333.1,271.2 L335.8,271.2 L338.4,271.2 L341.1,271.2 L343.7,271.1 L346.4,271.1 L349.0,271.1 L351.7,271.1 L354.3,271.1 L356.9,271.0 L359.6,271.0 L362.2,271.0 L364.8,271.0 L367.5,271.0 L370.1,271.0 L372.8,270.9 L375.4,270.9 L378.0,270.9 L380.7,270.9 L383.3,270.9 L385.9,270.8 L388.6,270.8 L391.2,270.8 L393.9,270.8 L396.5,270.8 L399.1,270.8 L401.8,270.7 L404.4,270.7 L407.1,270.7 L409.7,270.7 L412.4,270.7 L415.0,270.6 L417.7,270.6 L420.3,270.6 L423.0,270.6 L425.6,270.6 L428.3,270.5 L431.0,270.5 L433.6,270.5 L436.3,270.5 L439.0,270.5 L441.6,270.4 L444.3,270.4 L447.0,270.4 L449.6,270.4 L452.3,270.4 L455.0,270.4 L457.7,270.3 L460.3,270.3 L463.0,270.3 L465.7,270.3 L468.4,270.3 L471.0,270.2 L473.7,270.2 L476.4,270.2 L479.1,270.2 L481.7,270.2 L484.4,270.1 L487.1,270.1 L489.8,270.1 L492.5,270.1 L495.1,270.1 L497.8,270.0 L500.5,270.0 L503.2,270.0 L505.9,270.0 L508.6,270.0 L511.2,269.9 L513.9,269.9 L516.6,269.9 L519.3,269.9 L522.0,269.9 L524.7,269.9 L524.6,271.4 L95.2,271.4Z" fill="#7a7a7a" stroke="none"/>
<path d="M95.3,13.3 L97.9,16.6 L100.6,19.8 L103.3,23.1 L106.0,26.3 L108.7,29.6 L111.4,32.8 L114.0,36.1 L116.7,39.3 L119.4,42.6 L122.1,45.8 L124.8,49.1 L127.5,52.3 L130.2,55.6 L132.8,58.8 L135.5,62.1 L138.2,65.3 L140.9,68.6 L143.6,71.8 L146.3,75.0 L149.0,78.3 L151.7,81.5 L154.4,84.7 L157.1,88.0 L159.7,91.2 L162.4,94.4 L165.1,97.7 L167.8,100.9 L170.5,104.1 L173.2,107.3 L175.9,110.6 L178.6,113.8 L181.3,117.0 L184.0,120.2 L186.7,123.4 L189.4,126.6 L192.1,129.9 L194.8,133.1 L197.6,136.3 L200.3,139.5 L203.0,142.7 L205.7,145.9 L208.4,149.1 L211.1,152.3 L213.8,155.4 L216.6,158.6 L219.3,161.8 L222.0,165.0 L224.7,168.2 L227.5,171.3 L230.2,174.5 L232.9,177.6 L235.6,180.8 L238.4,183.9 L241.1,187.1 L243.8,190.2 L246.6,193.3 L249.3,196.4 L252.0,199.5 L254.8,202.6 L257.5,205.7 L260.2,208.7 L263.0,211.7 L265.7,214.7 L268.4,217.7 L271.1,220.7 L273.9,223.6 L276.6,226.5 L279.3,229.3 L282.0,232.0 L284.7,234.6 L287.5,237.1 L290.2,239.2 L292.9,240.8 L295.6,242.1 L298.3,243.2 L301.0,244.1 L303.7,244.7 L306.4,245.1 L309.1,245.3 L311.8,245.3 L314.4,245.0 L317.1,244.4 L319.8,243.6 L322.5,242.6 L325.1,241.4 L327.8,239.7 L330.5,237.5 L333.1,235.1 L335.8,232.5 L338.4,229.9 L341.1,227.2 L343.7,224.4 L346.4,221.6 L349.0,218.7 L351.7,215.8 L354.3,212.9 L356.9,209.9 L359.6,206.9 L362.2,203.9 L364.8,200.9 L367.5,197.9 L370.1,194.8 L372.8,191.8 L375.4,188.7 L378.0,185.6 L380.7,182.5 L383.3,179.4 L385.9,176.3 L388.6,173.2 L391.2,170.1 L393.9,167.0 L396.5,163.9 L399.1,160.7 L401.8,157.6 L404.4,154.5 L407.1,151.3 L409.7,148.2 L412.4,145.1 L415.0,141.9 L417.7,138.8 L420.3,135.6 L423.0,132.5 L425.6,129.3 L428.3,126.2 L431.0,123.0 L433.6,119.9 L436.3,116.7 L439.0,113.6 L441.6,110.4 L444.3,107.3 L447.0,104.1 L449.6,100.9 L452.3,97.8 L455.0,94.6 L457.7,91.5 L460.3,88.3 L463.0,85.2 L465.7,82.0 L468.4,78.8 L471.0,75.7 L473.7,72.5 L476.4,69.4 L479.1,66.2 L481.7,63.0 L484.4,59.9 L487.1,56.7 L489.8,53.6 L492.5,50.4 L495.1,47.3 L497.8,44.1 L500.5,40.9 L503.2,37.8 L505.9,34.6 L508.6,31.5 L511.2,28.3 L513.9,25.1 L516.6,22.0 L519.3,18.8 L522.0,15.7 L524.7,12.5" fill="none" stroke="#000" stroke-width="0.95" stroke-linejoin="round"/>
<path d="M95.3,56.4 L97.9,59.1 L100.6,61.8 L103.3,64.4 L106.0,67.1 L108.7,69.8 L111.4,72.5 L114.0,75.1 L116.7,77.8 L119.4,80.5 L122.1,83.1 L124.8,85.8 L127.5,88.5 L130.2,91.1 L132.8,93.8 L135.5,96.5 L138.2,99.1 L140.9,101.8 L143.6,104.5 L146.3,107.1 L149.0,109.8 L151.7,112.5 L154.4,115.1 L157.1,117.8 L159.7,120.4 L162.4,123.1 L165.1,125.7 L167.8,128.4 L170.5,131.1 L173.2,133.7 L175.9,136.4 L178.6,139.0 L181.3,141.6 L184.0,144.3 L186.7,146.9 L189.4,149.6 L192.1,152.2 L194.8,154.9 L197.6,157.5 L200.3,160.1 L203.0,162.8 L205.7,165.4 L208.4,168.0 L211.1,170.6 L213.8,173.3 L216.6,175.9 L219.3,178.5 L222.0,181.1 L224.7,183.7 L227.5,186.3 L230.2,188.9 L232.9,191.5 L235.6,194.1 L238.4,196.7 L241.1,199.3 L243.8,201.9 L246.6,204.4 L249.3,207.0 L252.0,209.5 L254.8,212.1 L257.5,214.6 L260.2,217.1 L263.0,219.6 L265.7,222.1 L268.4,224.6 L271.1,227.0 L273.9,229.4 L276.6,231.8 L279.3,234.2 L282.0,236.4 L284.7,238.7 L287.5,240.7 L290.2,242.5 L292.9,244.0 L295.6,245.2 L298.3,246.2 L301.0,247.1 L303.7,247.9 L306.4,248.6 L309.1,249.1 L311.8,249.4 L314.4,249.5 L317.1,249.4 L319.8,249.1 L322.5,248.6 L325.1,247.9 L327.8,246.7 L330.5,245.0 L333.1,243.0 L335.8,241.0 L338.4,238.9 L341.1,236.7 L343.7,234.5 L346.4,232.2 L349.0,229.9 L351.7,227.5 L354.3,225.2 L356.9,222.7 L359.6,220.3 L362.2,217.8 L364.8,215.4 L367.5,212.9 L370.1,210.4 L372.8,207.9 L375.4,205.4 L378.0,202.8 L380.7,200.3 L383.3,197.8 L385.9,195.2 L388.6,192.6 L391.2,190.1 L393.9,187.5 L396.5,184.9 L399.1,182.4 L401.8,179.8 L404.4,177.2 L407.1,174.6 L409.7,172.0 L412.4,169.5 L415.0,166.9 L417.7,164.3 L420.3,161.7 L423.0,159.1 L425.6,156.5 L428.3,153.9 L431.0,151.3 L433.6,148.7 L436.3,146.1 L439.0,143.5 L441.6,140.9 L444.3,138.3 L447.0,135.7 L449.6,133.1 L452.3,130.5 L455.0,127.9 L457.7,125.3 L460.3,122.6 L463.0,120.0 L465.7,117.4 L468.4,114.8 L471.0,112.2 L473.7,109.6 L476.4,107.0 L479.1,104.4 L481.7,101.8 L484.4,99.2 L487.1,96.6 L489.8,93.9 L492.5,91.3 L495.1,88.7 L497.8,86.1 L500.5,83.5 L503.2,80.9 L505.9,78.3 L508.6,75.7 L511.2,73.1 L513.9,70.5 L516.6,67.8 L519.3,65.2 L522.0,62.6 L524.7,60.0" fill="none" stroke="#000" stroke-width="0.95" stroke-linejoin="round"/>
<path d="M95.3,88.9 L97.9,91.2 L100.6,93.5 L103.3,95.8 L106.0,98.1 L108.7,100.3 L111.4,102.6 L114.0,104.9 L116.7,107.2 L119.4,109.5 L122.1,111.7 L124.8,114.0 L127.5,116.3 L130.2,118.6 L132.8,120.9 L135.5,123.1 L138.2,125.4 L140.9,127.7 L143.6,130.0 L146.3,132.2 L149.0,134.5 L151.7,136.8 L154.4,139.1 L157.1,141.3 L159.7,143.6 L162.4,145.9 L165.1,148.1 L167.8,150.4 L170.5,152.7 L173.2,154.9 L175.9,157.2 L178.6,159.5 L181.3,161.7 L184.0,164.0 L186.7,166.3 L189.4,168.5 L192.1,170.8 L194.8,173.0 L197.6,175.3 L200.3,177.5 L203.0,179.8 L205.7,182.0 L208.4,184.3 L211.1,186.5 L213.8,188.8 L216.6,191.0 L219.3,193.2 L222.0,195.5 L224.7,197.7 L227.5,199.9 L230.2,202.2 L232.9,204.4 L235.6,206.6 L238.4,208.8 L241.1,211.0 L243.8,213.2 L246.6,215.4 L249.3,217.6 L252.0,219.8 L254.8,221.9 L257.5,224.1 L260.2,226.2 L263.0,228.3 L265.7,230.4 L268.4,232.5 L271.1,234.6 L273.9,236.7 L276.6,238.7 L279.3,240.7 L282.0,242.6 L284.7,244.4 L287.5,246.1 L290.2,247.6 L292.9,248.6 L295.6,249.4 L298.3,250.1 L301.0,250.7 L303.7,251.1 L306.4,251.4 L309.1,251.5 L311.8,251.5 L314.4,251.2 L317.1,250.8 L319.8,250.1 L322.5,249.2 L325.1,248.2 L327.8,246.9 L330.5,245.5 L333.1,243.9 L335.8,242.3 L338.4,240.5 L341.1,238.7 L343.7,236.9 L346.4,234.9 L349.0,233.0 L351.7,231.0 L354.3,228.9 L356.9,226.9 L359.6,224.8 L362.2,222.7 L364.8,220.6 L367.5,218.5 L370.1,216.4 L372.8,214.2 L375.4,212.0 L378.0,209.9 L380.7,207.7 L383.3,205.5 L385.9,203.3 L388.6,201.1 L391.2,198.9 L393.9,196.7 L396.5,194.5 L399.1,192.3 L401.8,190.1 L404.4,187.8 L407.1,185.6 L409.7,183.4 L412.4,181.1 L415.0,178.9 L417.7,176.7 L420.3,174.4 L423.0,172.2 L425.6,170.0 L428.3,167.7 L431.0,165.5 L433.6,163.2 L436.3,161.0 L439.0,158.7 L441.6,156.5 L444.3,154.2 L447.0,152.0 L449.6,149.7 L452.3,147.4 L455.0,145.2 L457.7,142.9 L460.3,140.7 L463.0,138.4 L465.7,136.2 L468.4,133.9 L471.0,131.6 L473.7,129.4 L476.4,127.1 L479.1,124.9 L481.7,122.6 L484.4,120.3 L487.1,118.1 L489.8,115.8 L492.5,113.5 L495.1,111.3 L497.8,109.0 L500.5,106.7 L503.2,104.5 L505.9,102.2 L508.6,99.9 L511.2,97.7 L513.9,95.4 L516.6,93.1 L519.3,90.9 L522.0,88.6 L524.7,86.3" fill="none" stroke="#000" stroke-width="0.95" stroke-linejoin="round"/>
<path d="M95.3,120.4 L97.9,122.3 L100.6,124.2 L103.3,126.1 L106.0,128.1 L108.7,130.0 L111.4,131.9 L114.0,133.8 L116.7,135.7 L119.4,137.6 L122.1,139.5 L124.8,141.4 L127.5,143.3 L130.2,145.2 L132.8,147.1 L135.5,149.0 L138.2,150.9 L140.9,152.8 L143.6,154.7 L146.3,156.6 L149.0,158.6 L151.7,160.5 L154.4,162.4 L157.1,164.3 L159.7,166.2 L162.4,168.1 L165.1,170.0 L167.8,171.9 L170.5,173.7 L173.2,175.6 L175.9,177.5 L178.6,179.4 L181.3,181.3 L184.0,183.2 L186.7,185.1 L189.4,187.0 L192.1,188.9 L194.8,190.8 L197.6,192.7 L200.3,194.5 L203.0,196.4 L205.7,198.3 L208.4,200.2 L211.1,202.1 L213.8,203.9 L216.6,205.8 L219.3,207.7 L222.0,209.5 L224.7,211.4 L227.5,213.3 L230.2,215.1 L232.9,217.0 L235.6,218.8 L238.4,220.6 L241.1,222.5 L243.8,224.3 L246.6,226.1 L249.3,228.0 L252.0,229.8 L254.8,231.6 L257.5,233.3 L260.2,235.1 L263.0,236.9 L265.7,238.6 L268.4,240.4 L271.1,242.1 L273.9,243.8 L276.6,245.4 L279.3,247.0 L282.0,248.6 L284.7,250.1 L287.5,251.4 L290.2,252.5 L292.9,253.2 L295.6,253.7 L298.3,254.0 L301.0,254.2 L303.7,254.4 L306.4,254.3 L309.1,254.2 L311.8,253.8 L314.4,253.3 L317.1,252.6 L319.8,251.7 L322.5,250.8 L325.1,249.7 L327.8,248.5 L330.5,247.2 L333.1,245.9 L335.8,244.4 L338.4,243.0 L341.1,241.5 L343.7,239.9 L346.4,238.3 L349.0,236.7 L351.7,235.0 L354.3,233.3 L356.9,231.6 L359.6,229.9 L362.2,228.2 L364.8,226.4 L367.5,224.7 L370.1,222.9 L372.8,221.1 L375.4,219.3 L378.0,217.5 L380.7,215.6 L383.3,213.8 L385.9,212.0 L388.6,210.2 L391.2,208.3 L393.9,206.5 L396.5,204.6 L399.1,202.8 L401.8,200.9 L404.4,199.1 L407.1,197.2 L409.7,195.3 L412.4,193.5 L415.0,191.6 L417.7,189.7 L420.3,187.8 L423.0,186.0 L425.6,184.1 L428.3,182.2 L431.0,180.3 L433.6,178.4 L436.3,176.6 L439.0,174.7 L441.6,172.8 L444.3,170.9 L447.0,169.0 L449.6,167.1 L452.3,165.2 L455.0,163.3 L457.7,161.4 L460.3,159.5 L463.0,157.7 L465.7,155.8 L468.4,153.9 L471.0,152.0 L473.7,150.1 L476.4,148.2 L479.1,146.3 L481.7,144.4 L484.4,142.5 L487.1,140.6 L489.8,138.7 L492.5,136.8 L495.1,134.9 L497.8,133.0 L500.5,131.1 L503.2,129.2 L505.9,127.3 L508.6,125.4 L511.2,123.5 L513.9,121.6 L516.6,119.7 L519.3,117.8 L522.0,115.9 L524.7,114.0" fill="none" stroke="#000" stroke-width="0.95" stroke-linejoin="round"/>
<path d="M95.3,143.6 L97.9,145.2 L100.6,146.8 L103.3,148.4 L106.0,150.0 L108.7,151.6 L111.4,153.2 L114.0,154.7 L116.7,156.3 L119.4,157.9 L122.1,159.5 L124.8,161.1 L127.5,162.7 L130.2,164.2 L132.8,165.8 L135.5,167.4 L138.2,169.0 L140.9,170.6 L143.6,172.1 L146.3,173.7 L149.0,175.3 L151.7,176.9 L154.4,178.5 L157.1,180.0 L159.7,181.6 L162.4,183.2 L165.1,184.8 L167.8,186.3 L170.5,187.9 L173.2,189.5 L175.9,191.1 L178.6,192.6 L181.3,194.2 L184.0,195.8 L186.7,197.3 L189.4,198.9 L192.1,200.5 L194.8,202.0 L197.6,203.6 L200.3,205.2 L203.0,206.7 L205.7,208.3 L208.4,209.8 L211.1,211.4 L213.8,212.9 L216.6,214.5 L219.3,216.0 L222.0,217.6 L224.7,219.1 L227.5,220.7 L230.2,222.2 L232.9,223.7 L235.6,225.2 L238.4,226.8 L241.1,228.3 L243.8,229.8 L246.6,231.3 L249.3,232.8 L252.0,234.3 L254.8,235.8 L257.5,237.2 L260.2,238.7 L263.0,240.1 L265.7,241.6 L268.4,243.0 L271.1,244.4 L273.9,245.7 L276.6,247.1 L279.3,248.4 L282.0,249.6 L284.7,250.8 L287.5,251.9 L290.2,252.9 L292.9,253.7 L295.6,254.4 L298.3,255.1 L301.0,255.6 L303.7,256.0 L306.4,256.3 L309.1,256.4 L311.8,256.4 L314.4,256.2 L317.1,255.8 L319.8,255.3 L322.5,254.6 L325.1,253.8 L327.8,253.0 L330.5,252.0 L333.1,251.0 L335.8,249.9 L338.4,248.7 L341.1,247.5 L343.7,246.3 L346.4,245.0 L349.0,243.7 L351.7,242.4 L354.3,241.0 L356.9,239.6 L359.6,238.2 L362.2,236.8 L364.8,235.3 L367.5,233.9 L370.1,232.4 L372.8,231.0 L375.4,229.5 L378.0,228.0 L380.7,226.5 L383.3,225.0 L385.9,223.5 L388.6,221.9 L391.2,220.4 L393.9,218.9 L396.5,217.4 L399.1,215.8 L401.8,214.3 L404.4,212.7 L407.1,211.2 L409.7,209.6 L412.4,208.1 L415.0,206.5 L417.7,205.0 L420.3,203.4 L423.0,201.9 L425.6,200.3 L428.3,198.7 L431.0,197.2 L433.6,195.6 L436.3,194.0 L439.0,192.5 L441.6,190.9 L444.3,189.3 L447.0,187.7 L449.6,186.2 L452.3,184.6 L455.0,183.0 L457.7,181.4 L460.3,179.9 L463.0,178.3 L465.7,176.7 L468.4,175.1 L471.0,173.6 L473.7,172.0 L476.4,170.4 L479.1,168.8 L481.7,167.2 L484.4,165.6 L487.1,164.1 L489.8,162.5 L492.5,160.9 L495.1,159.3 L497.8,157.7 L500.5,156.1 L503.2,154.5 L505.9,153.0 L508.6,151.4 L511.2,149.8 L513.9,148.2 L516.6,146.6 L519.3,145.0 L522.0,143.4 L524.7,141.8" fill="none" stroke="#000" stroke-width="0.95" stroke-linejoin="round"/>
<path d="M95.3,162.2 L97.9,163.6 L100.6,165.0 L103.3,166.3 L106.0,167.7 L108.7,169.1 L111.4,170.5 L114.0,171.8 L116.7,173.2 L119.4,174.6 L122.1,175.9 L124.8,177.3 L127.5,178.7 L130.2,180.0 L132.8,181.4 L135.5,182.8 L138.2,184.2 L140.9,185.5 L143.6,186.9 L146.3,188.3 L149.0,189.6 L151.7,191.0 L154.4,192.4 L157.1,193.7 L159.7,195.1 L162.4,196.4 L165.1,197.8 L167.8,199.2 L170.5,200.5 L173.2,201.9 L175.9,203.3 L178.6,204.6 L181.3,206.0 L184.0,207.3 L186.7,208.7 L189.4,210.1 L192.1,211.4 L194.8,212.8 L197.6,214.1 L200.3,215.5 L203.0,216.8 L205.7,218.2 L208.4,219.5 L211.1,220.9 L213.8,222.2 L216.6,223.6 L219.3,224.9 L222.0,226.2 L224.7,227.6 L227.5,228.9 L230.2,230.2 L232.9,231.6 L235.6,232.9 L238.4,234.2 L241.1,235.5 L243.8,236.8 L246.6,238.1 L249.3,239.4 L252.0,240.7 L254.8,242.0 L257.5,243.3 L260.2,244.5 L263.0,245.8 L265.7,247.0 L268.4,248.2 L271.1,249.4 L273.9,250.6 L276.6,251.8 L279.3,252.9 L282.0,254.0 L284.7,255.0 L287.5,255.9 L290.2,256.7 L292.9,257.4 L295.6,258.0 L298.3,258.5 L301.0,258.8 L303.7,259.1 L306.4,259.3 L309.1,259.3 L311.8,259.2 L314.4,258.9 L317.1,258.5 L319.8,257.9 L322.5,257.2 L325.1,256.4 L327.8,255.5 L330.5,254.6 L333.1,253.6 L335.8,252.6 L338.4,251.5 L341.1,250.4 L343.7,249.2 L346.4,248.1 L349.0,246.9 L351.7,245.7 L354.3,244.4 L356.9,243.2 L359.6,241.9 L362.2,240.7 L364.8,239.4 L367.5,238.1 L370.1,236.8 L372.8,235.5 L375.4,234.2 L378.0,232.9 L380.7,231.6 L383.3,230.3 L385.9,229.0 L388.6,227.6 L391.2,226.3 L393.9,225.0 L396.5,223.6 L399.1,222.3 L401.8,221.0 L404.4,219.6 L407.1,218.3 L409.7,216.9 L412.4,215.6 L415.0,214.2 L417.7,212.9 L420.3,211.5 L423.0,210.2 L425.6,208.8 L428.3,207.4 L431.0,206.1 L433.6,204.7 L436.3,203.4 L439.0,202.0 L441.6,200.6 L444.3,199.3 L447.0,197.9 L449.6,196.5 L452.3,195.2 L455.0,193.8 L457.7,192.4 L460.3,191.1 L463.0,189.7 L465.7,188.3 L468.4,187.0 L471.0,185.6 L473.7,184.2 L476.4,182.8 L479.1,181.5 L481.7,180.1 L484.4,178.7 L487.1,177.4 L489.8,176.0 L492.5,174.6 L495.1,173.2 L497.8,171.9 L500.5,170.5 L503.2,169.1 L505.9,167.7 L508.6,166.4 L511.2,165.0 L513.9,163.6 L516.6,162.2 L519.3,160.8 L522.0,159.5 L524.7,158.1" fill="none" stroke="#000" stroke-width="0.95" stroke-linejoin="round"/>
<path d="M95.3,175.9 L97.9,177.1 L100.6,178.3 L103.3,179.4 L106.0,180.6 L108.7,181.8 L111.4,183.0 L114.0,184.2 L116.7,185.3 L119.4,186.5 L122.1,187.7 L124.8,188.9 L127.5,190.1 L130.2,191.2 L132.8,192.4 L135.5,193.6 L138.2,194.8 L140.9,195.9 L143.6,197.1 L146.3,198.3 L149.0,199.5 L151.7,200.6 L154.4,201.8 L157.1,203.0 L159.7,204.2 L162.4,205.3 L165.1,206.5 L167.8,207.7 L170.5,208.9 L173.2,210.0 L175.9,211.2 L178.6,212.4 L181.3,213.5 L184.0,214.7 L186.7,215.9 L189.4,217.0 L192.1,218.2 L194.8,219.4 L197.6,220.5 L200.3,221.7 L203.0,222.8 L205.7,224.0 L208.4,225.2 L211.1,226.3 L213.8,227.5 L216.6,228.6 L219.3,229.8 L222.0,230.9 L224.7,232.1 L227.5,233.2 L230.2,234.3 L232.9,235.5 L235.6,236.6 L238.4,237.7 L241.1,238.9 L243.8,240.0 L246.6,241.1 L249.3,242.2 L252.0,243.3 L254.8,244.4 L257.5,245.5 L260.2,246.5 L263.0,247.6 L265.7,248.7 L268.4,249.7 L271.1,250.7 L273.9,251.7 L276.6,252.7 L279.3,253.7 L282.0,254.6 L284.7,255.5 L287.5,256.3 L290.2,257.2 L292.9,257.9 L295.6,258.6 L298.3,259.3 L301.0,259.8 L303.7,260.3 L306.4,260.7 L309.1,260.9 L311.8,260.9 L314.4,260.8 L317.1,260.6 L319.8,260.2 L322.5,259.7 L325.1,259.1 L327.8,258.4 L330.5,257.6 L333.1,256.8 L335.8,256.0 L338.4,255.1 L341.1,254.2 L343.7,253.2 L346.4,252.2 L349.0,251.2 L351.7,250.2 L354.3,249.2 L356.9,248.1 L359.6,247.1 L362.2,246.0 L364.8,244.9 L367.5,243.8 L370.1,242.7 L372.8,241.6 L375.4,240.5 L378.0,239.4 L380.7,238.3 L383.3,237.2 L385.9,236.0 L388.6,234.9 L391.2,233.7 L393.9,232.6 L396.5,231.5 L399.1,230.3 L401.8,229.2 L404.4,228.0 L407.1,226.9 L409.7,225.7 L412.4,224.5 L415.0,223.4 L417.7,222.2 L420.3,221.1 L423.0,219.9 L425.6,218.7 L428.3,217.6 L431.0,216.4 L433.6,215.2 L436.3,214.1 L439.0,212.9 L441.6,211.7 L444.3,210.5 L447.0,209.4 L449.6,208.2 L452.3,207.0 L455.0,205.8 L457.7,204.7 L460.3,203.5 L463.0,202.3 L465.7,201.1 L468.4,200.0 L471.0,198.8 L473.7,197.6 L476.4,196.4 L479.1,195.2 L481.7,194.1 L484.4,192.9 L487.1,191.7 L489.8,190.5 L492.5,189.3 L495.1,188.2 L497.8,187.0 L500.5,185.8 L503.2,184.6 L505.9,183.4 L508.6,182.2 L511.2,181.1 L513.9,179.9 L516.6,178.7 L519.3,177.5 L522.0,176.3 L524.7,175.1" fill="none" stroke="#000" stroke-width="0.95" stroke-linejoin="round"/>
<path d="M95.3,189.8 L97.9,190.9 L100.6,191.9 L103.3,192.9 L106.0,193.9 L108.7,194.9 L111.4,195.9 L114.0,197.0 L116.7,198.0 L119.4,199.0 L122.1,200.0 L124.8,201.0 L127.5,202.0 L130.2,203.1 L132.8,204.1 L135.5,205.1 L138.2,206.1 L140.9,207.1 L143.6,208.1 L146.3,209.1 L149.0,210.1 L151.7,211.2 L154.4,212.2 L157.1,213.2 L159.7,214.2 L162.4,215.2 L165.1,216.2 L167.8,217.2 L170.5,218.2 L173.2,219.3 L175.9,220.3 L178.6,221.3 L181.3,222.3 L184.0,223.3 L186.7,224.3 L189.4,225.3 L192.1,226.3 L194.8,227.3 L197.6,228.3 L200.3,229.3 L203.0,230.3 L205.7,231.3 L208.4,232.3 L211.1,233.3 L213.8,234.3 L216.6,235.3 L219.3,236.3 L222.0,237.3 L224.7,238.3 L227.5,239.3 L230.2,240.3 L232.9,241.2 L235.6,242.2 L238.4,243.2 L241.1,244.2 L243.8,245.1 L246.6,246.1 L249.3,247.1 L252.0,248.0 L254.8,249.0 L257.5,249.9 L260.2,250.8 L263.0,251.8 L265.7,252.7 L268.4,253.6 L271.1,254.5 L273.9,255.3 L276.6,256.2 L279.3,257.0 L282.0,257.8 L284.7,258.6 L287.5,259.4 L290.2,260.1 L292.9,260.7 L295.6,261.3 L298.3,261.9 L301.0,262.4 L303.7,262.8 L306.4,263.1 L309.1,263.2 L311.8,263.2 L314.4,263.1 L317.1,262.8 L319.8,262.4 L322.5,261.9 L325.1,261.3 L327.8,260.7 L330.5,260.0 L333.1,259.2 L335.8,258.4 L338.4,257.6 L341.1,256.8 L343.7,255.9 L346.4,255.0 L349.0,254.1 L351.7,253.2 L354.3,252.3 L356.9,251.4 L359.6,250.4 L362.2,249.5 L364.8,248.5 L367.5,247.5 L370.1,246.6 L372.8,245.6 L375.4,244.6 L378.0,243.7 L380.7,242.7 L383.3,241.7 L385.9,240.7 L388.6,239.7 L391.2,238.7 L393.9,237.7 L396.5,236.7 L399.1,235.7 L401.8,234.7 L404.4,233.7 L407.1,232.7 L409.7,231.7 L412.4,230.7 L415.0,229.7 L417.7,228.7 L420.3,227.7 L423.0,226.7 L425.6,225.7 L428.3,224.7 L431.0,223.7 L433.6,222.7 L436.3,221.6 L439.0,220.6 L441.6,219.6 L444.3,218.6 L447.0,217.6 L449.6,216.6 L452.3,215.6 L455.0,214.5 L457.7,213.5 L460.3,212.5 L463.0,211.5 L465.7,210.5 L468.4,209.5 L471.0,208.4 L473.7,207.4 L476.4,206.4 L479.1,205.4 L481.7,204.4 L484.4,203.4 L487.1,202.3 L489.8,201.3 L492.5,200.3 L495.1,199.3 L497.8,198.3 L500.5,197.2 L503.2,196.2 L505.9,195.2 L508.6,194.2 L511.2,193.1 L513.9,192.1 L516.6,191.1 L519.3,190.1 L522.0,189.1 L524.7,188.0" fill="none" stroke="#000" stroke-width="0.95" stroke-linejoin="round"/>
<path d="M95.3,202.5 L97.9,203.3 L100.6,204.2 L103.3,205.1 L106.0,205.9 L108.7,206.8 L111.4,207.6 L114.0,208.5 L116.7,209.3 L119.4,210.2 L122.1,211.1 L124.8,211.9 L127.5,212.8 L130.2,213.6 L132.8,214.5 L135.5,215.3 L138.2,216.2 L140.9,217.0 L143.6,217.9 L146.3,218.8 L149.0,219.6 L151.7,220.5 L154.4,221.3 L157.1,222.2 L159.7,223.0 L162.4,223.9 L165.1,224.7 L167.8,225.6 L170.5,226.4 L173.2,227.3 L175.9,228.1 L178.6,229.0 L181.3,229.8 L184.0,230.7 L186.7,231.5 L189.4,232.4 L192.1,233.2 L194.8,234.1 L197.6,234.9 L200.3,235.8 L203.0,236.6 L205.7,237.5 L208.4,238.3 L211.1,239.1 L213.8,240.0 L216.6,240.8 L219.3,241.7 L222.0,242.5 L224.7,243.3 L227.5,244.2 L230.2,245.0 L232.9,245.8 L235.6,246.6 L238.4,247.4 L241.1,248.3 L243.8,249.1 L246.6,249.9 L249.3,250.7 L252.0,251.5 L254.8,252.3 L257.5,253.1 L260.2,253.8 L263.0,254.6 L265.7,255.4 L268.4,256.1 L271.1,256.8 L273.9,257.6 L276.6,258.3 L279.3,258.9 L282.0,259.6 L284.7,260.2 L287.5,260.8 L290.2,261.4 L292.9,261.9 L295.6,262.4 L298.3,262.8 L301.0,263.1 L303.7,263.4 L306.4,263.6 L309.1,263.6 L311.8,263.6 L314.4,263.5 L317.1,263.3 L319.8,263.0 L322.5,262.6 L325.1,262.2 L327.8,261.7 L330.5,261.1 L333.1,260.5 L335.8,259.9 L338.4,259.2 L341.1,258.5 L343.7,257.8 L346.4,257.1 L349.0,256.3 L351.7,255.6 L354.3,254.8 L356.9,254.0 L359.6,253.2 L362.2,252.5 L364.8,251.7 L367.5,250.8 L370.1,250.0 L372.8,249.2 L375.4,248.4 L378.0,247.6 L380.7,246.8 L383.3,245.9 L385.9,245.1 L388.6,244.3 L391.2,243.4 L393.9,242.6 L396.5,241.7 L399.1,240.9 L401.8,240.0 L404.4,239.2 L407.1,238.4 L409.7,237.5 L412.4,236.7 L415.0,235.8 L417.7,235.0 L420.3,234.1 L423.0,233.2 L425.6,232.4 L428.3,231.5 L431.0,230.7 L433.6,229.8 L436.3,229.0 L439.0,228.1 L441.6,227.2 L444.3,226.4 L447.0,225.5 L449.6,224.7 L452.3,223.8 L455.0,222.9 L457.7,222.1 L460.3,221.2 L463.0,220.4 L465.7,219.5 L468.4,218.6 L471.0,217.8 L473.7,216.9 L476.4,216.0 L479.1,215.2 L481.7,214.3 L484.4,213.4 L487.1,212.6 L489.8,211.7 L492.5,210.8 L495.1,210.0 L497.8,209.1 L500.5,208.2 L503.2,207.4 L505.9,206.5 L508.6,205.6 L511.2,204.8 L513.9,203.9 L516.6,203.0 L519.3,202.2 L522.0,201.3 L524.7,200.4" fill="none" stroke="#000" stroke-width="0.95" stroke-linejoin="round"/>
<path d="M95.3,214.1 L97.9,214.8 L100.6,215.5 L103.3,216.2 L106.0,216.9 L108.7,217.6 L111.4,218.3 L114.0,219.1 L116.7,219.8 L119.4,220.5 L122.1,221.2 L124.8,221.9 L127.5,222.6 L130.2,223.3 L132.8,224.0 L135.5,224.7 L138.2,225.4 L140.9,226.1 L143.6,226.8 L146.3,227.5 L149.0,228.2 L151.7,228.9 L154.4,229.6 L157.1,230.4 L159.7,231.1 L162.4,231.8 L165.1,232.5 L167.8,233.2 L170.5,233.9 L173.2,234.6 L175.9,235.3 L178.6,236.0 L181.3,236.7 L184.0,237.4 L186.7,238.1 L189.4,238.8 L192.1,239.5 L194.8,240.2 L197.6,240.9 L200.3,241.6 L203.0,242.3 L205.7,243.0 L208.4,243.7 L211.1,244.4 L213.8,245.1 L216.6,245.8 L219.3,246.5 L222.0,247.2 L224.7,247.9 L227.5,248.5 L230.2,249.2 L232.9,249.9 L235.6,250.6 L238.4,251.3 L241.1,252.0 L243.8,252.7 L246.6,253.3 L249.3,254.0 L252.0,254.7 L254.8,255.3 L257.5,256.0 L260.2,256.7 L263.0,257.3 L265.7,258.0 L268.4,258.6 L271.1,259.2 L273.9,259.9 L276.6,260.5 L279.3,261.1 L282.0,261.7 L284.7,262.2 L287.5,262.8 L290.2,263.3 L292.9,263.8 L295.6,264.2 L298.3,264.6 L301.0,265.0 L303.7,265.3 L306.4,265.5 L309.1,265.6 L311.8,265.7 L314.4,265.6 L317.1,265.5 L319.8,265.3 L322.5,265.0 L325.1,264.6 L327.8,264.2 L330.5,263.8 L333.1,263.3 L335.8,262.8 L338.4,262.2 L341.1,261.7 L343.7,261.1 L346.4,260.5 L349.0,259.9 L351.7,259.2 L354.3,258.6 L356.9,258.0 L359.6,257.3 L362.2,256.7 L364.8,256.0 L367.5,255.3 L370.1,254.7 L372.8,254.0 L375.4,253.3 L378.0,252.6 L380.7,251.9 L383.3,251.3 L385.9,250.6 L388.6,249.9 L391.2,249.2 L393.9,248.5 L396.5,247.8 L399.1,247.1 L401.8,246.4 L404.4,245.7 L407.1,245.0 L409.7,244.3 L412.4,243.6 L415.0,242.9 L417.7,242.2 L420.3,241.5 L423.0,240.8 L425.6,240.1 L428.3,239.4 L431.0,238.7 L433.6,238.0 L436.3,237.3 L439.0,236.6 L441.6,235.9 L444.3,235.2 L447.0,234.5 L449.6,233.8 L452.3,233.1 L455.0,232.3 L457.7,231.6 L460.3,230.9 L463.0,230.2 L465.7,229.5 L468.4,228.8 L471.0,228.1 L473.7,227.4 L476.4,226.7 L479.1,226.0 L481.7,225.2 L484.4,224.5 L487.1,223.8 L489.8,223.1 L492.5,222.4 L495.1,221.7 L497.8,221.0 L500.5,220.3 L503.2,219.5 L505.9,218.8 L508.6,218.1 L511.2,217.4 L513.9,216.7 L516.6,216.0 L519.3,215.3 L522.0,214.6 L524.7,213.8" fill="none" stroke="#000" stroke-width="0.95" stroke-linejoin="round"/>
<path d="M95.3,222.9 L97.9,223.5 L100.6,224.1 L103.3,224.7 L106.0,225.3 L108.7,225.9 L111.4,226.5 L114.0,227.1 L116.7,227.7 L119.4,228.3 L122.1,228.9 L124.8,229.5 L127.5,230.1 L130.2,230.7 L132.8,231.3 L135.5,231.9 L138.2,232.5 L140.9,233.1 L143.6,233.7 L146.3,234.3 L149.0,234.9 L151.7,235.5 L154.4,236.1 L157.1,236.7 L159.7,237.3 L162.4,237.9 L165.1,238.5 L167.8,239.0 L170.5,239.6 L173.2,240.2 L175.9,240.8 L178.6,241.4 L181.3,242.0 L184.0,242.6 L186.7,243.2 L189.4,243.8 L192.1,244.4 L194.8,245.0 L197.6,245.6 L200.3,246.2 L203.0,246.8 L205.7,247.4 L208.4,248.0 L211.1,248.5 L213.8,249.1 L216.6,249.7 L219.3,250.3 L222.0,250.9 L224.7,251.5 L227.5,252.1 L230.2,252.7 L232.9,253.2 L235.6,253.8 L238.4,254.4 L241.1,255.0 L243.8,255.6 L246.6,256.1 L249.3,256.7 L252.0,257.3 L254.8,257.8 L257.5,258.4 L260.2,258.9 L263.0,259.5 L265.7,260.1 L268.4,260.6 L271.1,261.1 L273.9,261.7 L276.6,262.2 L279.3,262.7 L282.0,263.2 L284.7,263.7 L287.5,264.1 L290.2,264.6 L292.9,265.0 L295.6,265.4 L298.3,265.7 L301.0,266.0 L303.7,266.2 L306.4,266.4 L309.1,266.5 L311.8,266.6 L314.4,266.5 L317.1,266.4 L319.8,266.2 L322.5,266.0 L325.1,265.7 L327.8,265.4 L330.5,265.0 L333.1,264.6 L335.8,264.1 L338.4,263.7 L341.1,263.2 L343.7,262.7 L346.4,262.2 L349.0,261.7 L351.7,261.1 L354.3,260.6 L356.9,260.1 L359.6,259.5 L362.2,258.9 L364.8,258.4 L367.5,257.8 L370.1,257.3 L372.8,256.7 L375.4,256.1 L378.0,255.6 L380.7,255.0 L383.3,254.4 L385.9,253.8 L388.6,253.2 L391.2,252.7 L393.9,252.1 L396.5,251.5 L399.1,250.9 L401.8,250.3 L404.4,249.7 L407.1,249.1 L409.7,248.5 L412.4,248.0 L415.0,247.4 L417.7,246.8 L420.3,246.2 L423.0,245.6 L425.6,245.0 L428.3,244.4 L431.0,243.8 L433.6,243.2 L436.3,242.6 L439.0,242.0 L441.6,241.4 L444.3,240.8 L447.0,240.2 L449.6,239.6 L452.3,239.0 L455.0,238.5 L457.7,237.9 L460.3,237.3 L463.0,236.7 L465.7,236.1 L468.4,235.5 L471.0,234.9 L473.7,234.3 L476.4,233.7 L479.1,233.1 L481.7,232.5 L484.4,231.9 L487.1,231.3 L489.8,230.7 L492.5,230.1 L495.1,229.5 L497.8,228.9 L500.5,228.3 L503.2,227.7 L505.9,227.1 L508.6,226.5 L511.2,225.9 L513.9,225.3 L516.6,224.7 L519.3,224.1 L522.0,223.5 L524.7,222.9" fill="none" stroke="url(#lg)" stroke-width="0.80" stroke-linejoin="round"/>
<path d="M95.3,230.1 L97.9,230.6 L100.6,231.1 L103.3,231.6 L106.0,232.1 L108.7,232.6 L111.4,233.2 L114.0,233.7 L116.7,234.2 L119.4,234.7 L122.1,235.2 L124.8,235.7 L127.5,236.2 L130.2,236.7 L132.8,237.2 L135.5,237.7 L138.2,238.2 L140.9,238.7 L143.6,239.2 L146.3,239.8 L149.0,240.3 L151.7,240.8 L154.4,241.3 L157.1,241.8 L159.7,242.3 L162.4,242.8 L165.1,243.3 L167.8,243.8 L170.5,244.3 L173.2,244.8 L175.9,245.3 L178.6,245.8 L181.3,246.3 L184.0,246.9 L186.7,247.4 L189.4,247.9 L192.1,248.4 L194.8,248.9 L197.6,249.4 L200.3,249.9 L203.0,250.4 L205.7,250.9 L208.4,251.4 L211.1,251.9 L213.8,252.4 L216.6,252.9 L219.3,253.4 L222.0,253.9 L224.7,254.4 L227.5,254.9 L230.2,255.4 L232.9,255.9 L235.6,256.4 L238.4,256.9 L241.1,257.4 L243.8,257.9 L246.6,258.4 L249.3,258.9 L252.0,259.3 L254.8,259.8 L257.5,260.3 L260.2,260.8 L263.0,261.3 L265.7,261.7 L268.4,262.2 L271.1,262.6 L273.9,263.1 L276.6,263.5 L279.3,264.0 L282.0,264.4 L284.7,264.8 L287.5,265.2 L290.2,265.6 L292.9,266.0 L295.6,266.3 L298.3,266.6 L301.0,266.8 L303.7,267.1 L306.4,267.2 L309.1,267.3 L311.8,267.3 L314.4,267.3 L317.1,267.2 L319.8,267.1 L322.5,266.8 L325.1,266.6 L327.8,266.3 L330.5,266.0 L333.1,265.6 L335.8,265.2 L338.4,264.8 L341.1,264.4 L343.7,264.0 L346.4,263.5 L349.0,263.1 L351.7,262.6 L354.3,262.2 L356.9,261.7 L359.6,261.2 L362.2,260.7 L364.8,260.3 L367.5,259.8 L370.1,259.3 L372.8,258.8 L375.4,258.3 L378.0,257.8 L380.7,257.3 L383.3,256.8 L385.9,256.3 L388.6,255.8 L391.2,255.3 L393.9,254.8 L396.5,254.3 L399.1,253.8 L401.8,253.3 L404.4,252.8 L407.1,252.3 L409.7,251.8 L412.4,251.3 L415.0,250.8 L417.7,250.3 L420.3,249.7 L423.0,249.2 L425.6,248.7 L428.3,248.2 L431.0,247.7 L433.6,247.2 L436.3,246.7 L439.0,246.2 L441.6,245.6 L444.3,245.1 L447.0,244.6 L449.6,244.1 L452.3,243.6 L455.0,243.1 L457.7,242.6 L460.3,242.0 L463.0,241.5 L465.7,241.0 L468.4,240.5 L471.0,240.0 L473.7,239.5 L476.4,238.9 L479.1,238.4 L481.7,237.9 L484.4,237.4 L487.1,236.9 L489.8,236.3 L492.5,235.8 L495.1,235.3 L497.8,234.8 L500.5,234.3 L503.2,233.7 L505.9,233.2 L508.6,232.7 L511.2,232.2 L513.9,231.7 L516.6,231.1 L519.3,230.6 L522.0,230.1 L524.7,229.6" fill="none" stroke="url(#lg)" stroke-width="0.80" stroke-linejoin="round"/>
<path d="M95.3,237.1 L97.9,237.5 L100.6,237.9 L103.3,238.3 L106.0,238.8 L108.7,239.2 L111.4,239.6 L114.0,240.0 L116.7,240.4 L119.4,240.9 L122.1,241.3 L124.8,241.7 L127.5,242.1 L130.2,242.6 L132.8,243.0 L135.5,243.4 L138.2,243.8 L140.9,244.2 L143.6,244.7 L146.3,245.1 L149.0,245.5 L151.7,245.9 L154.4,246.4 L157.1,246.8 L159.7,247.2 L162.4,247.6 L165.1,248.0 L167.8,248.5 L170.5,248.9 L173.2,249.3 L175.9,249.7 L178.6,250.2 L181.3,250.6 L184.0,251.0 L186.7,251.4 L189.4,251.8 L192.1,252.3 L194.8,252.7 L197.6,253.1 L200.3,253.5 L203.0,253.9 L205.7,254.4 L208.4,254.8 L211.1,255.2 L213.8,255.6 L216.6,256.0 L219.3,256.4 L222.0,256.9 L224.7,257.3 L227.5,257.7 L230.2,258.1 L232.9,258.5 L235.6,258.9 L238.4,259.4 L241.1,259.8 L243.8,260.2 L246.6,260.6 L249.3,261.0 L252.0,261.4 L254.8,261.8 L257.5,262.2 L260.2,262.6 L263.0,263.0 L265.7,263.4 L268.4,263.8 L271.1,264.2 L273.9,264.5 L276.6,264.9 L279.3,265.3 L282.0,265.6 L284.7,266.0 L287.5,266.3 L290.2,266.6 L292.9,266.9 L295.6,267.2 L298.3,267.5 L301.0,267.7 L303.7,267.9 L306.4,268.0 L309.1,268.1 L311.8,268.1 L314.4,268.1 L317.1,268.0 L319.8,267.9 L322.5,267.7 L325.1,267.5 L327.8,267.2 L330.5,266.9 L333.1,266.6 L335.8,266.3 L338.4,266.0 L341.1,265.6 L343.7,265.3 L346.4,264.9 L349.0,264.5 L351.7,264.1 L354.3,263.8 L356.9,263.4 L359.6,263.0 L362.2,262.6 L364.8,262.2 L367.5,261.8 L370.1,261.4 L372.8,260.9 L375.4,260.5 L378.0,260.1 L380.7,259.7 L383.3,259.3 L385.9,258.9 L388.6,258.5 L391.2,258.0 L393.9,257.6 L396.5,257.2 L399.1,256.8 L401.8,256.4 L404.4,255.9 L407.1,255.5 L409.7,255.1 L412.4,254.7 L415.0,254.2 L417.7,253.8 L420.3,253.4 L423.0,253.0 L425.6,252.5 L428.3,252.1 L431.0,251.7 L433.6,251.2 L436.3,250.8 L439.0,250.4 L441.6,250.0 L444.3,249.5 L447.0,249.1 L449.6,248.7 L452.3,248.2 L455.0,247.8 L457.7,247.4 L460.3,246.9 L463.0,246.5 L465.7,246.1 L468.4,245.7 L471.0,245.2 L473.7,244.8 L476.4,244.4 L479.1,243.9 L481.7,243.5 L484.4,243.1 L487.1,242.6 L489.8,242.2 L492.5,241.8 L495.1,241.3 L497.8,240.9 L500.5,240.5 L503.2,240.0 L505.9,239.6 L508.6,239.2 L511.2,238.7 L513.9,238.3 L516.6,237.9 L519.3,237.4 L522.0,237.0 L524.7,236.6" fill="none" stroke="url(#lg)" stroke-width="0.80" stroke-linejoin="round"/>
<path d="M95.3,245.1 L97.9,245.4 L100.6,245.7 L103.3,246.0 L106.0,246.3 L108.7,246.7 L111.4,247.0 L114.0,247.3 L116.7,247.6 L119.4,247.9 L122.1,248.2 L124.8,248.6 L127.5,248.9 L130.2,249.2 L132.8,249.5 L135.5,249.8 L138.2,250.1 L140.9,250.5 L143.6,250.8 L146.3,251.1 L149.0,251.4 L151.7,251.7 L154.4,252.1 L157.1,252.4 L159.7,252.7 L162.4,253.0 L165.1,253.3 L167.8,253.7 L170.5,254.0 L173.2,254.3 L175.9,254.6 L178.6,254.9 L181.3,255.3 L184.0,255.6 L186.7,255.9 L189.4,256.2 L192.1,256.6 L194.8,256.9 L197.6,257.2 L200.3,257.5 L203.0,257.8 L205.7,258.2 L208.4,258.5 L211.1,258.8 L213.8,259.1 L216.6,259.4 L219.3,259.8 L222.0,260.1 L224.7,260.4 L227.5,260.7 L230.2,261.1 L232.9,261.4 L235.6,261.7 L238.4,262.0 L241.1,262.3 L243.8,262.6 L246.6,263.0 L249.3,263.3 L252.0,263.6 L254.8,263.9 L257.5,264.2 L260.2,264.5 L263.0,264.8 L265.7,265.2 L268.4,265.5 L271.1,265.8 L273.9,266.1 L276.6,266.3 L279.3,266.6 L282.0,266.9 L284.7,267.2 L287.5,267.5 L290.2,267.7 L292.9,267.9 L295.6,268.2 L298.3,268.4 L301.0,268.5 L303.7,268.7 L306.4,268.8 L309.1,268.9 L311.8,268.9 L314.4,268.9 L317.1,268.8 L319.8,268.7 L322.5,268.5 L325.1,268.4 L327.8,268.2 L330.5,267.9 L333.1,267.7 L335.8,267.4 L338.4,267.2 L341.1,266.9 L343.7,266.6 L346.4,266.3 L349.0,266.0 L351.7,265.7 L354.3,265.4 L356.9,265.1 L359.6,264.7 L362.2,264.4 L364.8,264.1 L367.5,263.8 L370.1,263.5 L372.8,263.1 L375.4,262.8 L378.0,262.5 L380.7,262.1 L383.3,261.8 L385.9,261.5 L388.6,261.1 L391.2,260.8 L393.9,260.5 L396.5,260.1 L399.1,259.8 L401.8,259.4 L404.4,259.1 L407.1,258.8 L409.7,258.4 L412.4,258.1 L415.0,257.7 L417.7,257.4 L420.3,257.0 L423.0,256.7 L425.6,256.3 L428.3,256.0 L431.0,255.7 L433.6,255.3 L436.3,255.0 L439.0,254.6 L441.6,254.3 L444.3,253.9 L447.0,253.6 L449.6,253.2 L452.3,252.9 L455.0,252.5 L457.7,252.2 L460.3,251.8 L463.0,251.5 L465.7,251.1 L468.4,250.8 L471.0,250.4 L473.7,250.0 L476.4,249.7 L479.1,249.3 L481.7,249.0 L484.4,248.6 L487.1,248.3 L489.8,247.9 L492.5,247.6 L495.1,247.2 L497.8,246.9 L500.5,246.5 L503.2,246.1 L505.9,245.8 L508.6,245.4 L511.2,245.1 L513.9,244.7 L516.6,244.3 L519.3,244.0 L522.0,243.6 L524.7,243.3" fill="none" stroke="url(#lg)" stroke-width="0.80" stroke-linejoin="round"/>
<path d="M95.3,252.2 L97.9,252.4 L100.6,252.6 L103.3,252.9 L106.0,253.1 L108.7,253.4 L111.4,253.6 L114.0,253.8 L116.7,254.1 L119.4,254.3 L122.1,254.6 L124.8,254.8 L127.5,255.0 L130.2,255.3 L132.8,255.5 L135.5,255.7 L138.2,256.0 L140.9,256.2 L143.6,256.5 L146.3,256.7 L149.0,256.9 L151.7,257.2 L154.4,257.4 L157.1,257.6 L159.7,257.9 L162.4,258.1 L165.1,258.4 L167.8,258.6 L170.5,258.8 L173.2,259.1 L175.9,259.3 L178.6,259.5 L181.3,259.8 L184.0,260.0 L186.7,260.3 L189.4,260.5 L192.1,260.7 L194.8,261.0 L197.6,261.2 L200.3,261.4 L203.0,261.7 L205.7,261.9 L208.4,262.1 L211.1,262.4 L213.8,262.6 L216.6,262.8 L219.3,263.1 L222.0,263.3 L224.7,263.5 L227.5,263.8 L230.2,264.0 L232.9,264.2 L235.6,264.5 L238.4,264.7 L241.1,264.9 L243.8,265.2 L246.6,265.4 L249.3,265.6 L252.0,265.9 L254.8,266.1 L257.5,266.3 L260.2,266.5 L263.0,266.8 L265.7,267.0 L268.4,267.2 L271.1,267.4 L273.9,267.6 L276.6,267.8 L279.3,268.0 L282.0,268.2 L284.7,268.4 L287.5,268.6 L290.2,268.8 L292.9,269.0 L295.6,269.2 L298.3,269.3 L301.0,269.4 L303.7,269.5 L306.4,269.6 L309.1,269.7 L311.8,269.7 L314.4,269.7 L317.1,269.6 L319.8,269.5 L322.5,269.4 L325.1,269.3 L327.8,269.2 L330.5,269.0 L333.1,268.8 L335.8,268.6 L338.4,268.4 L341.1,268.2 L343.7,268.0 L346.4,267.8 L349.0,267.6 L351.7,267.4 L354.3,267.2 L356.9,267.0 L359.6,266.8 L362.2,266.5 L364.8,266.3 L367.5,266.1 L370.1,265.9 L372.8,265.6 L375.4,265.4 L378.0,265.2 L380.7,264.9 L383.3,264.7 L385.9,264.5 L388.6,264.2 L391.2,264.0 L393.9,263.8 L396.5,263.5 L399.1,263.3 L401.8,263.1 L404.4,262.8 L407.1,262.6 L409.7,262.4 L412.4,262.1 L415.0,261.9 L417.7,261.7 L420.3,261.4 L423.0,261.2 L425.6,261.0 L428.3,260.7 L431.0,260.5 L433.6,260.3 L436.3,260.0 L439.0,259.8 L441.6,259.5 L444.3,259.3 L447.0,259.1 L449.6,258.8 L452.3,258.6 L455.0,258.4 L457.7,258.1 L460.3,257.9 L463.0,257.6 L465.7,257.4 L468.4,257.2 L471.0,256.9 L473.7,256.7 L476.4,256.5 L479.1,256.2 L481.7,256.0 L484.4,255.7 L487.1,255.5 L489.8,255.3 L492.5,255.0 L495.1,254.8 L497.8,254.6 L500.5,254.3 L503.2,254.1 L505.9,253.8 L508.6,253.6 L511.2,253.4 L513.9,253.1 L516.6,252.9 L519.3,252.6 L522.0,252.4 L524.7,252.2" fill="none" stroke="url(#lg)" stroke-width="0.80" stroke-linejoin="round"/>
<path d="M95.3,259.3 L97.9,259.4 L100.6,259.6 L103.3,259.7 L106.0,259.9 L108.7,260.0 L111.4,260.2 L114.0,260.3 L116.7,260.5 L119.4,260.6 L122.1,260.8 L124.8,260.9 L127.5,261.1 L130.2,261.2 L132.8,261.4 L135.5,261.5 L138.2,261.7 L140.9,261.8 L143.6,262.0 L146.3,262.1 L149.0,262.3 L151.7,262.4 L154.4,262.6 L157.1,262.7 L159.7,262.9 L162.4,263.0 L165.1,263.2 L167.8,263.3 L170.5,263.5 L173.2,263.6 L175.9,263.8 L178.6,263.9 L181.3,264.1 L184.0,264.2 L186.7,264.4 L189.4,264.5 L192.1,264.7 L194.8,264.8 L197.6,265.0 L200.3,265.1 L203.0,265.3 L205.7,265.4 L208.4,265.6 L211.1,265.7 L213.8,265.9 L216.6,266.0 L219.3,266.2 L222.0,266.3 L224.7,266.5 L227.5,266.6 L230.2,266.8 L232.9,266.9 L235.6,267.0 L238.4,267.2 L241.1,267.3 L243.8,267.5 L246.6,267.6 L249.3,267.8 L252.0,267.9 L254.8,268.1 L257.5,268.2 L260.2,268.3 L263.0,268.5 L265.7,268.6 L268.4,268.8 L271.1,268.9 L273.9,269.0 L276.6,269.2 L279.3,269.3 L282.0,269.4 L284.7,269.5 L287.5,269.7 L290.2,269.8 L292.9,269.9 L295.6,270.0 L298.3,270.1 L301.0,270.2 L303.7,270.2 L306.4,270.3 L309.1,270.3 L311.8,270.3 L314.4,270.3 L317.1,270.3 L319.8,270.2 L322.5,270.2 L325.1,270.1 L327.8,270.0 L330.5,269.9 L333.1,269.8 L335.8,269.7 L338.4,269.5 L341.1,269.4 L343.7,269.3 L346.4,269.2 L349.0,269.0 L351.7,268.9 L354.3,268.8 L356.9,268.6 L359.6,268.5 L362.2,268.3 L364.8,268.2 L367.5,268.1 L370.1,267.9 L372.8,267.8 L375.4,267.6 L378.0,267.5 L380.7,267.4 L383.3,267.2 L385.9,267.1 L388.6,266.9 L391.2,266.8 L393.9,266.6 L396.5,266.5 L399.1,266.3 L401.8,266.2 L404.4,266.0 L407.1,265.9 L409.7,265.7 L412.4,265.6 L415.0,265.5 L417.7,265.3 L420.3,265.2 L423.0,265.0 L425.6,264.9 L428.3,264.7 L431.0,264.6 L433.6,264.4 L436.3,264.3 L439.0,264.1 L441.6,264.0 L444.3,263.8 L447.0,263.7 L449.6,263.5 L452.3,263.4 L455.0,263.2 L457.7,263.1 L460.3,262.9 L463.0,262.8 L465.7,262.7 L468.4,262.5 L471.0,262.4 L473.7,262.2 L476.4,262.1 L479.1,261.9 L481.7,261.8 L484.4,261.6 L487.1,261.5 L489.8,261.3 L492.5,261.2 L495.1,261.0 L497.8,260.9 L500.5,260.7 L503.2,260.6 L505.9,260.4 L508.6,260.3 L511.2,260.1 L513.9,260.0 L516.6,259.8 L519.3,259.7 L522.0,259.5 L524.7,259.4" fill="none" stroke="url(#lg)" stroke-width="0.80" stroke-linejoin="round"/>
<path d="M95.3,265.5 L97.9,265.5 L100.6,265.6 L103.3,265.7 L106.0,265.8 L108.7,265.8 L111.4,265.9 L114.0,266.0 L116.7,266.1 L119.4,266.1 L122.1,266.2 L124.8,266.3 L127.5,266.3 L130.2,266.4 L132.8,266.5 L135.5,266.6 L138.2,266.6 L140.9,266.7 L143.6,266.8 L146.3,266.9 L149.0,266.9 L151.7,267.0 L154.4,267.1 L157.1,267.2 L159.7,267.2 L162.4,267.3 L165.1,267.4 L167.8,267.4 L170.5,267.5 L173.2,267.6 L175.9,267.7 L178.6,267.7 L181.3,267.8 L184.0,267.9 L186.7,268.0 L189.4,268.0 L192.1,268.1 L194.8,268.2 L197.6,268.2 L200.3,268.3 L203.0,268.4 L205.7,268.5 L208.4,268.5 L211.1,268.6 L213.8,268.7 L216.6,268.8 L219.3,268.8 L222.0,268.9 L224.7,269.0 L227.5,269.0 L230.2,269.1 L232.9,269.2 L235.6,269.3 L238.4,269.3 L241.1,269.4 L243.8,269.5 L246.6,269.5 L249.3,269.6 L252.0,269.7 L254.8,269.7 L257.5,269.8 L260.2,269.9 L263.0,270.0 L265.7,270.0 L268.4,270.1 L271.1,270.2 L273.9,270.2 L276.6,270.3 L279.3,270.3 L282.0,270.4 L284.7,270.5 L287.5,270.5 L290.2,270.6 L292.9,270.6 L295.6,270.7 L298.3,270.7 L301.0,270.8 L303.7,270.8 L306.4,270.8 L309.1,270.8 L311.8,270.8 L314.4,270.8 L317.1,270.8 L319.8,270.8 L322.5,270.8 L325.1,270.7 L327.8,270.7 L330.5,270.6 L333.1,270.6 L335.8,270.5 L338.4,270.5 L341.1,270.4 L343.7,270.3 L346.4,270.3 L349.0,270.2 L351.7,270.2 L354.3,270.1 L356.9,270.0 L359.6,270.0 L362.2,269.9 L364.8,269.8 L367.5,269.7 L370.1,269.7 L372.8,269.6 L375.4,269.5 L378.0,269.5 L380.7,269.4 L383.3,269.3 L385.9,269.3 L388.6,269.2 L391.2,269.1 L393.9,269.0 L396.5,269.0 L399.1,268.9 L401.8,268.8 L404.4,268.8 L407.1,268.7 L409.7,268.6 L412.4,268.5 L415.0,268.5 L417.7,268.4 L420.3,268.3 L423.0,268.2 L425.6,268.2 L428.3,268.1 L431.0,268.0 L433.6,268.0 L436.3,267.9 L439.0,267.8 L441.6,267.7 L444.3,267.7 L447.0,267.6 L449.6,267.5 L452.3,267.4 L455.0,267.4 L457.7,267.3 L460.3,267.2 L463.0,267.2 L465.7,267.1 L468.4,267.0 L471.0,266.9 L473.7,266.9 L476.4,266.8 L479.1,266.7 L481.7,266.6 L484.4,266.6 L487.1,266.5 L489.8,266.4 L492.5,266.3 L495.1,266.3 L497.8,266.2 L500.5,266.1 L503.2,266.1 L505.9,266.0 L508.6,265.9 L511.2,265.8 L513.9,265.8 L516.6,265.7 L519.3,265.6 L522.0,265.5 L524.7,265.5" fill="none" stroke="url(#lg)" stroke-width="0.80" stroke-linejoin="round"/>
<path d="M95.3,268.2 L97.9,268.2 L100.6,268.3 L103.3,268.3 L106.0,268.3 L108.7,268.4 L111.4,268.4 L114.0,268.5 L116.7,268.5 L119.4,268.5 L122.1,268.6 L124.8,268.6 L127.5,268.7 L130.2,268.7 L132.8,268.7 L135.5,268.8 L138.2,268.8 L140.9,268.9 L143.6,268.9 L146.3,268.9 L149.0,269.0 L151.7,269.0 L154.4,269.1 L157.1,269.1 L159.7,269.1 L162.4,269.2 L165.1,269.2 L167.8,269.3 L170.5,269.3 L173.2,269.3 L175.9,269.4 L178.6,269.4 L181.3,269.5 L184.0,269.5 L186.7,269.5 L189.4,269.6 L192.1,269.6 L194.8,269.7 L197.6,269.7 L200.3,269.7 L203.0,269.8 L205.7,269.8 L208.4,269.9 L211.1,269.9 L213.8,269.9 L216.6,270.0 L219.3,270.0 L222.0,270.0 L224.7,270.1 L227.5,270.1 L230.2,270.2 L232.9,270.2 L235.6,270.2 L238.4,270.3 L241.1,270.3 L243.8,270.4 L246.6,270.4 L249.3,270.4 L252.0,270.5 L254.8,270.5 L257.5,270.5 L260.2,270.6 L263.0,270.6 L265.7,270.7 L268.4,270.7 L271.1,270.7 L273.9,270.8 L276.6,270.8 L279.3,270.8 L282.0,270.9 L284.7,270.9 L287.5,270.9 L290.2,270.9 L292.9,271.0 L295.6,271.0 L298.3,271.0 L301.0,271.0 L303.7,271.1 L306.4,271.1 L309.1,271.1 L311.8,271.1 L314.4,271.1 L317.1,271.1 L319.8,271.1 L322.5,271.0 L325.1,271.0 L327.8,271.0 L330.5,271.0 L333.1,270.9 L335.8,270.9 L338.4,270.9 L341.1,270.9 L343.7,270.8 L346.4,270.8 L349.0,270.8 L351.7,270.7 L354.3,270.7 L356.9,270.7 L359.6,270.6 L362.2,270.6 L364.8,270.6 L367.5,270.5 L370.1,270.5 L372.8,270.4 L375.4,270.4 L378.0,270.4 L380.7,270.3 L383.3,270.3 L385.9,270.3 L388.6,270.2 L391.2,270.2 L393.9,270.1 L396.5,270.1 L399.1,270.1 L401.8,270.0 L404.4,270.0 L407.1,270.0 L409.7,269.9 L412.4,269.9 L415.0,269.8 L417.7,269.8 L420.3,269.8 L423.0,269.7 L425.6,269.7 L428.3,269.7 L431.0,269.6 L433.6,269.6 L436.3,269.5 L439.0,269.5 L441.6,269.5 L444.3,269.4 L447.0,269.4 L449.6,269.4 L452.3,269.3 L455.0,269.3 L457.7,269.2 L460.3,269.2 L463.0,269.2 L465.7,269.1 L468.4,269.1 L471.0,269.1 L473.7,269.0 L476.4,269.0 L479.1,268.9 L481.7,268.9 L484.4,268.9 L487.1,268.8 L489.8,268.8 L492.5,268.8 L495.1,268.7 L497.8,268.7 L500.5,268.6 L503.2,268.6 L505.9,268.6 L508.6,268.5 L511.2,268.5 L513.9,268.5 L516.6,268.4 L519.3,268.4 L522.0,268.3 L524.7,268.3" fill="none" stroke="#666" stroke-width="0.80" stroke-linejoin="round"/>
<path d="M95.3,269.9 L97.9,269.9 L100.6,269.9 L103.3,269.9 L106.0,269.9 L108.7,269.9 L111.4,270.0 L114.0,270.0 L116.7,270.0 L119.4,270.0 L122.1,270.0 L124.8,270.1 L127.5,270.1 L130.2,270.1 L132.8,270.1 L135.5,270.1 L138.2,270.2 L140.9,270.2 L143.6,270.2 L146.3,270.2 L149.0,270.2 L151.7,270.3 L154.4,270.3 L157.1,270.3 L159.7,270.3 L162.4,270.3 L165.1,270.4 L167.8,270.4 L170.5,270.4 L173.2,270.4 L175.9,270.4 L178.6,270.4 L181.3,270.5 L184.0,270.5 L186.7,270.5 L189.4,270.5 L192.1,270.5 L194.8,270.6 L197.6,270.6 L200.3,270.6 L203.0,270.6 L205.7,270.6 L208.4,270.7 L211.1,270.7 L213.8,270.7 L216.6,270.7 L219.3,270.7 L222.0,270.8 L224.7,270.8 L227.5,270.8 L230.2,270.8 L232.9,270.8 L235.6,270.8 L238.4,270.9 L241.1,270.9 L243.8,270.9 L246.6,270.9 L249.3,270.9 L252.0,271.0 L254.8,271.0 L257.5,271.0 L260.2,271.0 L263.0,271.0 L265.7,271.0 L268.4,271.1 L271.1,271.1 L273.9,271.1 L276.6,271.1 L279.3,271.1 L282.0,271.2 L284.7,271.2 L287.5,271.2 L290.2,271.2 L292.9,271.2 L295.6,271.2 L298.3,271.2 L301.0,271.3 L303.7,271.3 L306.4,271.3 L309.1,271.3 L311.8,271.3 L314.4,271.3 L317.1,271.3 L319.8,271.3 L322.5,271.3 L325.1,271.2 L327.8,271.2 L330.5,271.2 L333.1,271.2 L335.8,271.2 L338.4,271.2 L341.1,271.2 L343.7,271.1 L346.4,271.1 L349.0,271.1 L351.7,271.1 L354.3,271.1 L356.9,271.0 L359.6,271.0 L362.2,271.0 L364.8,271.0 L367.5,271.0 L370.1,271.0 L372.8,270.9 L375.4,270.9 L378.0,270.9 L380.7,270.9 L383.3,270.9 L385.9,270.8 L388.6,270.8 L391.2,270.8 L393.9,270.8 L396.5,270.8 L399.1,270.8 L401.8,270.7 L404.4,270.7 L407.1,270.7 L409.7,270.7 L412.4,270.7 L415.0,270.6 L417.7,270.6 L420.3,270.6 L423.0,270.6 L425.6,270.6 L428.3,270.5 L431.0,270.5 L433.6,270.5 L436.3,270.5 L439.0,270.5 L441.6,270.4 L444.3,270.4 L447.0,270.4 L449.6,270.4 L452.3,270.4 L455.0,270.4 L457.7,270.3 L460.3,270.3 L463.0,270.3 L465.7,270.3 L468.4,270.3 L471.0,270.2 L473.7,270.2 L476.4,270.2 L479.1,270.2 L481.7,270.2 L484.4,270.1 L487.1,270.1 L489.8,270.1 L492.5,270.1 L495.1,270.1 L497.8,270.0 L500.5,270.0 L503.2,270.0 L505.9,270.0 L508.6,270.0 L511.2,269.9 L513.9,269.9 L516.6,269.9 L519.3,269.9 L522.0,269.9 L524.7,269.9" fill="none" stroke="#666" stroke-width="0.80" stroke-linejoin="round"/>
<line x1="95.25" y1="271.30" x2="524.65" y2="271.30" stroke="#000" stroke-width="1.8"/>
<rect x="86.30" y="8.40" width="447.10" height="268.00" fill="none" stroke="#555" stroke-width="1.2"/>
<path d="M95.25,276.40v-4.50M95.25,8.40v4.50M116.72,276.40v-2.80M116.72,8.40v2.80M138.19,276.40v-2.80M138.19,8.40v2.80M159.66,276.40v-2.80M159.66,8.40v2.80M181.13,276.40v-2.80M181.13,8.40v2.80M202.60,276.40v-4.50M202.60,8.40v4.50M224.07,276.40v-2.80M224.07,8.40v2.80M245.54,276.40v-2.80M245.54,8.40v2.80M267.01,276.40v-2.80M267.01,8.40v2.80M288.48,276.40v-2.80M288.48,8.40v2.80M309.95,276.40v-4.50M309.95,8.40v4.50M331.42,276.40v-2.80M331.42,8.40v2.80M352.89,276.40v-2.80M352.89,8.40v2.80M374.36,276.40v-2.80M374.36,8.40v2.80M395.83,276.40v-2.80M395.83,8.40v2.80M417.30,276.40v-4.50M417.30,8.40v4.50M438.77,276.40v-2.80M438.77,8.40v2.80M460.24,276.40v-2.80M460.24,8.40v2.80M481.71,276.40v-2.80M481.71,8.40v2.80M503.18,276.40v-2.80M503.18,8.40v2.80M524.65,276.40v-4.50M524.65,8.40v4.50M86.30,271.40h5.00M533.40,271.40h-5.00M86.30,258.50h3.40M533.40,258.50h-3.40M86.30,245.59h3.40M533.40,245.59h-3.40M86.30,232.68h3.40M533.40,232.68h-3.40M86.30,219.78h5.00M533.40,219.78h-5.00M86.30,206.87h3.40M533.40,206.87h-3.40M86.30,193.97h3.40M533.40,193.97h-3.40M86.30,181.06h3.40M533.40,181.06h-3.40M86.30,168.16h5.00M533.40,168.16h-5.00M86.30,155.25h3.40M533.40,155.25h-3.40M86.30,142.35h3.40M533.40,142.35h-3.40M86.30,129.44h3.40M533.40,129.44h-3.40M86.30,116.54h5.00M533.40,116.54h-5.00M86.30,103.63h3.40M533.40,103.63h-3.40M86.30,90.73h3.40M533.40,90.73h-3.40M86.30,77.82h3.40M533.40,77.82h-3.40M86.30,64.92h5.00M533.40,64.92h-5.00M86.30,52.01h3.40M533.40,52.01h-3.40M86.30,39.11h3.40M533.40,39.11h-3.40M86.30,26.20h3.40M533.40,26.20h-3.40M86.30,13.30h5.00M533.40,13.30h-5.00" stroke="#333" stroke-width="1" fill="none"/>
<text x="83.8" y="276.40" font-family="Liberation Sans, sans-serif" font-size="17" text-anchor="end" textLength="9.4" lengthAdjust="spacingAndGlyphs">0</text>
<text x="82.5" y="224.78" font-family="Liberation Sans, sans-serif" font-size="17" text-anchor="end" textLength="19.3" lengthAdjust="spacingAndGlyphs">20</text>
<text x="82.5" y="173.16" font-family="Liberation Sans, sans-serif" font-size="17" text-anchor="end" textLength="19.3" lengthAdjust="spacingAndGlyphs">40</text>
<text x="82.5" y="121.54" font-family="Liberation Sans, sans-serif" font-size="17" text-anchor="end" textLength="19.3" lengthAdjust="spacingAndGlyphs">60</text>
<text x="82.5" y="69.92" font-family="Liberation Sans, sans-serif" font-size="17" text-anchor="end" textLength="19.3" lengthAdjust="spacingAndGlyphs">80</text>
<text x="81.0" y="18.30" font-family="Liberation Sans, sans-serif" font-size="17" text-anchor="end" textLength="27.6" lengthAdjust="spacingAndGlyphs">100</text>
<text x="96.25" y="296" font-family="Liberation Sans, sans-serif" font-size="17" text-anchor="middle" textLength="23.3" lengthAdjust="spacingAndGlyphs">0.0</text>
<text x="203.60" y="296" font-family="Liberation Sans, sans-serif" font-size="17" text-anchor="middle" textLength="23.3" lengthAdjust="spacingAndGlyphs">0.1</text>
<text x="310.95" y="296" font-family="Liberation Sans, sans-serif" font-size="17" text-anchor="middle" textLength="23.3" lengthAdjust="spacingAndGlyphs">0.2</text>
<text x="418.30" y="296" font-family="Liberation Sans, sans-serif" font-size="17" text-anchor="middle" textLength="23.3" lengthAdjust="spacingAndGlyphs">0.3</text>
<text x="525.65" y="296" font-family="Liberation Sans, sans-serif" font-size="17" text-anchor="middle" textLength="23.3" lengthAdjust="spacingAndGlyphs">0.4</text>
<text x="231.3" y="316.8" font-family="Liberation Sans, sans-serif" font-size="16" textLength="154.3" lengthAdjust="spacingAndGlyphs">Aerosol Optical Depth</text>
<text transform="translate(44,261) rotate(-90)" font-family="Liberation Sans, sans-serif" font-size="16.6" textLength="235.5" lengthAdjust="spacingAndGlyphs">Percent Global Pre-SRM Damages</text>
<text x="-0.8" y="16.4" font-family="Liberation Sans, sans-serif" font-size="20.5">(a)</text>
<text transform="translate(100.00,44.60) rotate(42.00)" x="-2.5" y="4" font-family="Liberation Sans, sans-serif" font-size="12.3" textLength="28.9" lengthAdjust="spacingAndGlyphs">S Asia</text>
<text transform="translate(100.50,77.40) rotate(42.90)" x="-2.5" y="4" font-family="Liberation Sans, sans-serif" font-size="12.3" textLength="73.6" lengthAdjust="spacingAndGlyphs">Mediterranean</text>
<text transform="translate(101.20,108.80) rotate(42.30)" x="-2.5" y="4" font-family="Liberation Sans, sans-serif" font-size="12.3" textLength="29.6" lengthAdjust="spacingAndGlyphs">E Asia</text>
<text transform="translate(99.80,136.00) rotate(30.80)" x="-2.5" y="4" font-family="Liberation Sans, sans-serif" font-size="12.3" textLength="35.3" lengthAdjust="spacingAndGlyphs">SE Asia</text>
<text transform="translate(100.50,155.50) rotate(27.50)" x="-2.5" y="4" font-family="Liberation Sans, sans-serif" font-size="12.3" textLength="46.6" lengthAdjust="spacingAndGlyphs">N Europe</text>
<text transform="translate(100.50,171.60) rotate(27.00)" x="-2.5" y="4" font-family="Liberation Sans, sans-serif" font-size="12.3" textLength="37.6" lengthAdjust="spacingAndGlyphs">S Africa</text>
<text transform="translate(99.80,187.40) rotate(21.50)" x="-2.5" y="4" font-family="Liberation Sans, sans-serif" font-size="12.3" textLength="60.5" lengthAdjust="spacingAndGlyphs">E N America</text>
<text transform="translate(100.50,210.40) rotate(19.20)" x="-2.5" y="4" font-family="Liberation Sans, sans-serif" font-size="12.3" textLength="41.9" lengthAdjust="spacingAndGlyphs">W Africa</text>
<rect x="53.50" y="353.50" width="199.60" height="178.80" fill="none" stroke="#858585" stroke-width="1.4"/>
<path d="M56.40,532.30v-2.00M56.40,353.50v2.00M64.95,532.30v-2.00M64.95,353.50v2.00M73.50,532.30v-3.20M73.50,353.50v3.20M82.05,532.30v-2.00M82.05,353.50v2.00M90.60,532.30v-2.00M90.60,353.50v2.00M99.15,532.30v-2.00M99.15,353.50v2.00M107.70,532.30v-2.00M107.70,353.50v2.00M116.25,532.30v-3.20M116.25,353.50v3.20M124.80,532.30v-2.00M124.80,353.50v2.00M133.35,532.30v-2.00M133.35,353.50v2.00M141.90,532.30v-2.00M141.90,353.50v2.00M150.45,532.30v-2.00M150.45,353.50v2.00M159.00,532.30v-3.20M159.00,353.50v3.20M167.55,532.30v-2.00M167.55,353.50v2.00M176.10,532.30v-2.00M176.10,353.50v2.00M184.65,532.30v-2.00M184.65,353.50v2.00M193.20,532.30v-2.00M193.20,353.50v2.00M201.75,532.30v-3.20M201.75,353.50v3.20M210.30,532.30v-2.00M210.30,353.50v2.00M218.85,532.30v-2.00M218.85,353.50v2.00M227.40,532.30v-2.00M227.40,353.50v2.00M235.95,532.30v-2.00M235.95,353.50v2.00M244.50,532.30v-3.20M244.50,353.50v3.20M53.50,528.30h3.20M253.10,528.30h-3.20M53.50,520.70h2.00M253.10,520.70h-2.00M53.50,513.10h2.00M253.10,513.10h-2.00M53.50,505.50h2.00M253.10,505.50h-2.00M53.50,497.90h2.00M253.10,497.90h-2.00M53.50,490.30h3.20M253.10,490.30h-3.20M53.50,482.70h2.00M253.10,482.70h-2.00M53.50,475.10h2.00M253.10,475.10h-2.00M53.50,467.50h2.00M253.10,467.50h-2.00M53.50,459.90h2.00M253.10,459.90h-2.00M53.50,452.30h3.20M253.10,452.30h-3.20M53.50,444.70h2.00M253.10,444.70h-2.00M53.50,437.10h2.00M253.10,437.10h-2.00M53.50,429.50h2.00M253.10,429.50h-2.00M53.50,421.90h2.00M253.10,421.90h-2.00M53.50,414.30h3.20M253.10,414.30h-3.20M53.50,406.70h2.00M253.10,406.70h-2.00M53.50,399.10h2.00M253.10,399.10h-2.00M53.50,391.50h2.00M253.10,391.50h-2.00M53.50,383.90h2.00M253.10,383.90h-2.00M53.50,376.30h3.20M253.10,376.30h-3.20M53.50,368.70h2.00M253.10,368.70h-2.00M53.50,361.10h2.00M253.10,361.10h-2.00" stroke="#222" stroke-width="0.8" fill="none"/>
<text x="74.00" y="549.5" font-family="Liberation Sans, sans-serif" font-size="13.2" text-anchor="middle" textLength="27" lengthAdjust="spacingAndGlyphs">0.18</text>
<text x="116.75" y="549.5" font-family="Liberation Sans, sans-serif" font-size="13.2" text-anchor="middle" textLength="27" lengthAdjust="spacingAndGlyphs">0.19</text>
<text x="159.50" y="549.5" font-family="Liberation Sans, sans-serif" font-size="13.2" text-anchor="middle" textLength="27" lengthAdjust="spacingAndGlyphs">0.20</text>
<text x="202.25" y="549.5" font-family="Liberation Sans, sans-serif" font-size="13.2" text-anchor="middle" textLength="27" lengthAdjust="spacingAndGlyphs">0.21</text>
<text x="245.00" y="549.5" font-family="Liberation Sans, sans-serif" font-size="13.2" text-anchor="middle" textLength="27" lengthAdjust="spacingAndGlyphs">0.22</text>
<text x="41.3" y="531.90" font-family="Liberation Sans, sans-serif" font-size="13" text-anchor="middle">0</text>
<text x="41.3" y="493.90" font-family="Liberation Sans, sans-serif" font-size="13" text-anchor="middle">5</text>
<text x="41.3" y="455.90" font-family="Liberation Sans, sans-serif" font-size="13" text-anchor="middle">10</text>
<text x="41.3" y="417.90" font-family="Liberation Sans, sans-serif" font-size="13" text-anchor="middle">15</text>
<text x="41.3" y="379.90" font-family="Liberation Sans, sans-serif" font-size="13" text-anchor="middle">20</text>
<rect x="333.70" y="353.80" width="198.80" height="178.20" fill="none" stroke="#858585" stroke-width="1.4"/>
<path d="M335.60,532.00v-2.00M335.60,353.80v2.00M344.15,532.00v-2.00M344.15,353.80v2.00M352.70,532.00v-3.20M352.70,353.80v3.20M361.25,532.00v-2.00M361.25,353.80v2.00M369.80,532.00v-2.00M369.80,353.80v2.00M378.35,532.00v-2.00M378.35,353.80v2.00M386.90,532.00v-2.00M386.90,353.80v2.00M395.45,532.00v-3.20M395.45,353.80v3.20M404.00,532.00v-2.00M404.00,353.80v2.00M412.55,532.00v-2.00M412.55,353.80v2.00M421.10,532.00v-2.00M421.10,353.80v2.00M429.65,532.00v-2.00M429.65,353.80v2.00M438.20,532.00v-3.20M438.20,353.80v3.20M446.75,532.00v-2.00M446.75,353.80v2.00M455.30,532.00v-2.00M455.30,353.80v2.00M463.85,532.00v-2.00M463.85,353.80v2.00M472.40,532.00v-2.00M472.40,353.80v2.00M480.95,532.00v-3.20M480.95,353.80v3.20M489.50,532.00v-2.00M489.50,353.80v2.00M498.05,532.00v-2.00M498.05,353.80v2.00M506.60,532.00v-2.00M506.60,353.80v2.00M515.15,532.00v-2.00M515.15,353.80v2.00M523.70,532.00v-3.20M523.70,353.80v3.20M333.70,528.00h3.20M532.50,528.00h-3.20M333.70,520.40h2.00M532.50,520.40h-2.00M333.70,512.80h2.00M532.50,512.80h-2.00M333.70,505.20h2.00M532.50,505.20h-2.00M333.70,497.60h2.00M532.50,497.60h-2.00M333.70,490.00h3.20M532.50,490.00h-3.20M333.70,482.40h2.00M532.50,482.40h-2.00M333.70,474.80h2.00M532.50,474.80h-2.00M333.70,467.20h2.00M532.50,467.20h-2.00M333.70,459.60h2.00M532.50,459.60h-2.00M333.70,452.00h3.20M532.50,452.00h-3.20M333.70,444.40h2.00M532.50,444.40h-2.00M333.70,436.80h2.00M532.50,436.80h-2.00M333.70,429.20h2.00M532.50,429.20h-2.00M333.70,421.60h2.00M532.50,421.60h-2.00M333.70,414.00h3.20M532.50,414.00h-3.20M333.70,406.40h2.00M532.50,406.40h-2.00M333.70,398.80h2.00M532.50,398.80h-2.00M333.70,391.20h2.00M532.50,391.20h-2.00M333.70,383.60h2.00M532.50,383.60h-2.00M333.70,376.00h3.20M532.50,376.00h-3.20M333.70,368.40h2.00M532.50,368.40h-2.00M333.70,360.80h2.00M532.50,360.80h-2.00" stroke="#222" stroke-width="0.8" fill="none"/>
<text x="353.20" y="549.5" font-family="Liberation Sans, sans-serif" font-size="13.2" text-anchor="middle" textLength="27" lengthAdjust="spacingAndGlyphs">0.18</text>
<text x="395.95" y="549.5" font-family="Liberation Sans, sans-serif" font-size="13.2" text-anchor="middle" textLength="27" lengthAdjust="spacingAndGlyphs">0.19</text>
<text x="438.70" y="549.5" font-family="Liberation Sans, sans-serif" font-size="13.2" text-anchor="middle" textLength="27" lengthAdjust="spacingAndGlyphs">0.20</text>
<text x="481.45" y="549.5" font-family="Liberation Sans, sans-serif" font-size="13.2" text-anchor="middle" textLength="27" lengthAdjust="spacingAndGlyphs">0.21</text>
<text x="524.20" y="549.5" font-family="Liberation Sans, sans-serif" font-size="13.2" text-anchor="middle" textLength="27" lengthAdjust="spacingAndGlyphs">0.22</text>
<text x="547" y="532.10" font-family="Liberation Sans, sans-serif" font-size="13" text-anchor="middle">0</text>
<text x="547" y="494.10" font-family="Liberation Sans, sans-serif" font-size="13" text-anchor="middle">5</text>
<text x="547" y="456.10" font-family="Liberation Sans, sans-serif" font-size="13" text-anchor="middle">10</text>
<text x="547" y="418.10" font-family="Liberation Sans, sans-serif" font-size="13" text-anchor="middle">15</text>
<text x="547" y="380.10" font-family="Liberation Sans, sans-serif" font-size="13" text-anchor="middle">20</text>
<text x="53.5" y="570.1" font-family="Liberation Sans, sans-serif" font-size="14.5" textLength="205" lengthAdjust="spacingAndGlyphs">Preferred Aerosol Optical Depth</text>
<text x="335" y="570.2" font-family="Liberation Sans, sans-serif" font-size="14.5" textLength="203.5" lengthAdjust="spacingAndGlyphs">Preferred Aerosol Optical Depth</text>
<text transform="translate(23.6,521.4) rotate(-90)" font-family="Liberation Sans, sans-serif" font-size="15.8" textLength="146.6" lengthAdjust="spacingAndGlyphs">Percent Global Share</text>
<text transform="translate(577.6,521.4) rotate(-90)" font-family="Liberation Sans, sans-serif" font-size="15.8" textLength="146.6" lengthAdjust="spacingAndGlyphs">Percent Global Share</text>
<text x="116.2" y="344.9" font-family="Liberation Sans, sans-serif" font-size="16" textLength="76.6" lengthAdjust="spacingAndGlyphs">Population</text>
<text x="420" y="345.6" font-family="Liberation Sans, sans-serif" font-size="16" textLength="30.3" lengthAdjust="spacingAndGlyphs">GDP</text>
<text x="7.5" y="348.6" font-family="Liberation Sans, sans-serif" font-size="22.5">(b)</text>
<text x="300.5" y="348.6" font-family="Liberation Sans, sans-serif" font-size="22.5">(c)</text>
<path d="M111.75,363.66L276.60,415.80M215.58,390.10L276.70,395.50M236.80,470.39L257.40,462.50M80.99,461.77L272.20,473.40M71.45,468.24L274.00,497.50M73.34,475.52L275.70,508.50M315.00,395.50L486.81,408.11M309.80,424.50L381.06,451.48M332.00,462.50L508.83,439.22M314.00,471.90L352.30,472.44M323.30,485.60L524.47,446.37M326.80,521.00L487.52,464.72" stroke="#8a8a8a" stroke-width="0.8" fill="none"/>
<circle cx="57.00" cy="503.70" r="3.6" fill="#7f7f7f"/>
<circle cx="71.80" cy="528.00" r="3.6" fill="#7f7f7f"/>
<circle cx="91.00" cy="526.70" r="3.6" fill="#7f7f7f"/>
<circle cx="140.90" cy="512.40" r="3.6" fill="#7f7f7f"/>
<circle cx="146.40" cy="528.30" r="3.6" fill="#7f7f7f"/>
<circle cx="160.40" cy="510.40" r="3.6" fill="#7f7f7f"/>
<circle cx="174.90" cy="515.50" r="3.6" fill="#7f7f7f"/>
<circle cx="182.20" cy="518.20" r="3.6" fill="#7f7f7f"/>
<circle cx="182.20" cy="522.10" r="3.6" fill="#7f7f7f"/>
<circle cx="186.90" cy="520.80" r="3.6" fill="#7f7f7f"/>
<circle cx="192.30" cy="519.30" r="3.6" fill="#7f7f7f"/>
<circle cx="194.30" cy="504.50" r="3.6" fill="#7f7f7f"/>
<circle cx="199.30" cy="528.30" r="3.6" fill="#7f7f7f"/>
<circle cx="211.00" cy="510.40" r="3.6" fill="#7f7f7f"/>
<circle cx="248.30" cy="494.00" r="3.6" fill="#7f7f7f"/>
<circle cx="181.40" cy="489.70" r="3.6" fill="#7f7f7f"/>
<circle cx="337.20" cy="504.90" r="3.6" fill="#7f7f7f"/>
<circle cx="346.90" cy="508.20" r="3.6" fill="#7f7f7f"/>
<circle cx="349.10" cy="516.60" r="3.6" fill="#7f7f7f"/>
<circle cx="351.40" cy="527.40" r="3.6" fill="#7f7f7f"/>
<circle cx="370.90" cy="524.00" r="3.6" fill="#7f7f7f"/>
<circle cx="420.60" cy="501.00" r="3.6" fill="#7f7f7f"/>
<circle cx="426.30" cy="528.50" r="3.6" fill="#7f7f7f"/>
<circle cx="441.20" cy="502.50" r="3.6" fill="#7f7f7f"/>
<circle cx="454.80" cy="503.50" r="3.6" fill="#7f7f7f"/>
<circle cx="461.50" cy="507.00" r="3.6" fill="#7f7f7f"/>
<circle cx="462.20" cy="494.60" r="3.6" fill="#7f7f7f"/>
<circle cx="472.20" cy="495.10" r="3.6" fill="#7f7f7f"/>
<circle cx="474.60" cy="499.90" r="3.6" fill="#7f7f7f"/>
<circle cx="462.20" cy="520.90" r="3.6" fill="#7f7f7f"/>
<circle cx="467.50" cy="523.30" r="3.6" fill="#7f7f7f"/>
<circle cx="479.40" cy="528.00" r="3.6" fill="#7f7f7f"/>
<circle cx="104.60" cy="361.40" r="3.6" fill="#008080"/>
<circle cx="211.10" cy="389.70" r="3.6" fill="#aa00ff"/>
<circle cx="232.60" cy="472.00" r="3.6" fill="#d0ff00"/>
<circle cx="76.50" cy="461.50" r="3.6" fill="#44ff00"/>
<circle cx="67.00" cy="467.60" r="3.6" fill="#00ffff"/>
<circle cx="68.90" cy="474.80" r="3.6" fill="#7a0000"/>
<circle cx="490.80" cy="408.40" r="3.6" fill="#aa00ff"/>
<circle cx="384.80" cy="452.90" r="3.6" fill="#008080"/>
<circle cx="512.80" cy="438.70" r="3.6" fill="#d0ff00"/>
<circle cx="528.40" cy="445.60" r="3.6" fill="#ff7700"/>
<circle cx="356.30" cy="472.50" r="3.6" fill="#44ff00"/>
<circle cx="491.30" cy="463.40" r="3.6" fill="#ff1100"/>
<text x="294.40" y="399.50" font-family="Liberation Sans, sans-serif" font-size="11.2" text-anchor="middle" textLength="29.6" lengthAdjust="spacingAndGlyphs">E Asia</text>
<text x="293.35" y="424.30" font-family="Liberation Sans, sans-serif" font-size="11.2" text-anchor="middle" textLength="28.9" lengthAdjust="spacingAndGlyphs">S Asia</text>
<text x="294.60" y="466.70" font-family="Liberation Sans, sans-serif" font-size="11.2" text-anchor="middle" textLength="73.6" lengthAdjust="spacingAndGlyphs">Mediterranean</text>
<text x="292.85" y="478.00" font-family="Liberation Sans, sans-serif" font-size="11.2" text-anchor="middle" textLength="35.3" lengthAdjust="spacingAndGlyphs">SE Asia</text>
<text x="297.30" y="489.30" font-family="Liberation Sans, sans-serif" font-size="11.2" text-anchor="middle" textLength="46.6" lengthAdjust="spacingAndGlyphs">N Europe</text>
<text x="297.05" y="501.30" font-family="Liberation Sans, sans-serif" font-size="11.2" text-anchor="middle" textLength="41.9" lengthAdjust="spacingAndGlyphs">W Africa</text>
<text x="297.00" y="512.80" font-family="Liberation Sans, sans-serif" font-size="11.2" text-anchor="middle" textLength="37.6" lengthAdjust="spacingAndGlyphs">S Africa</text>
<text x="295.05" y="525.00" font-family="Liberation Sans, sans-serif" font-size="11.2" text-anchor="middle" textLength="60.5" lengthAdjust="spacingAndGlyphs">E N America</text>
</svg></body></html>
